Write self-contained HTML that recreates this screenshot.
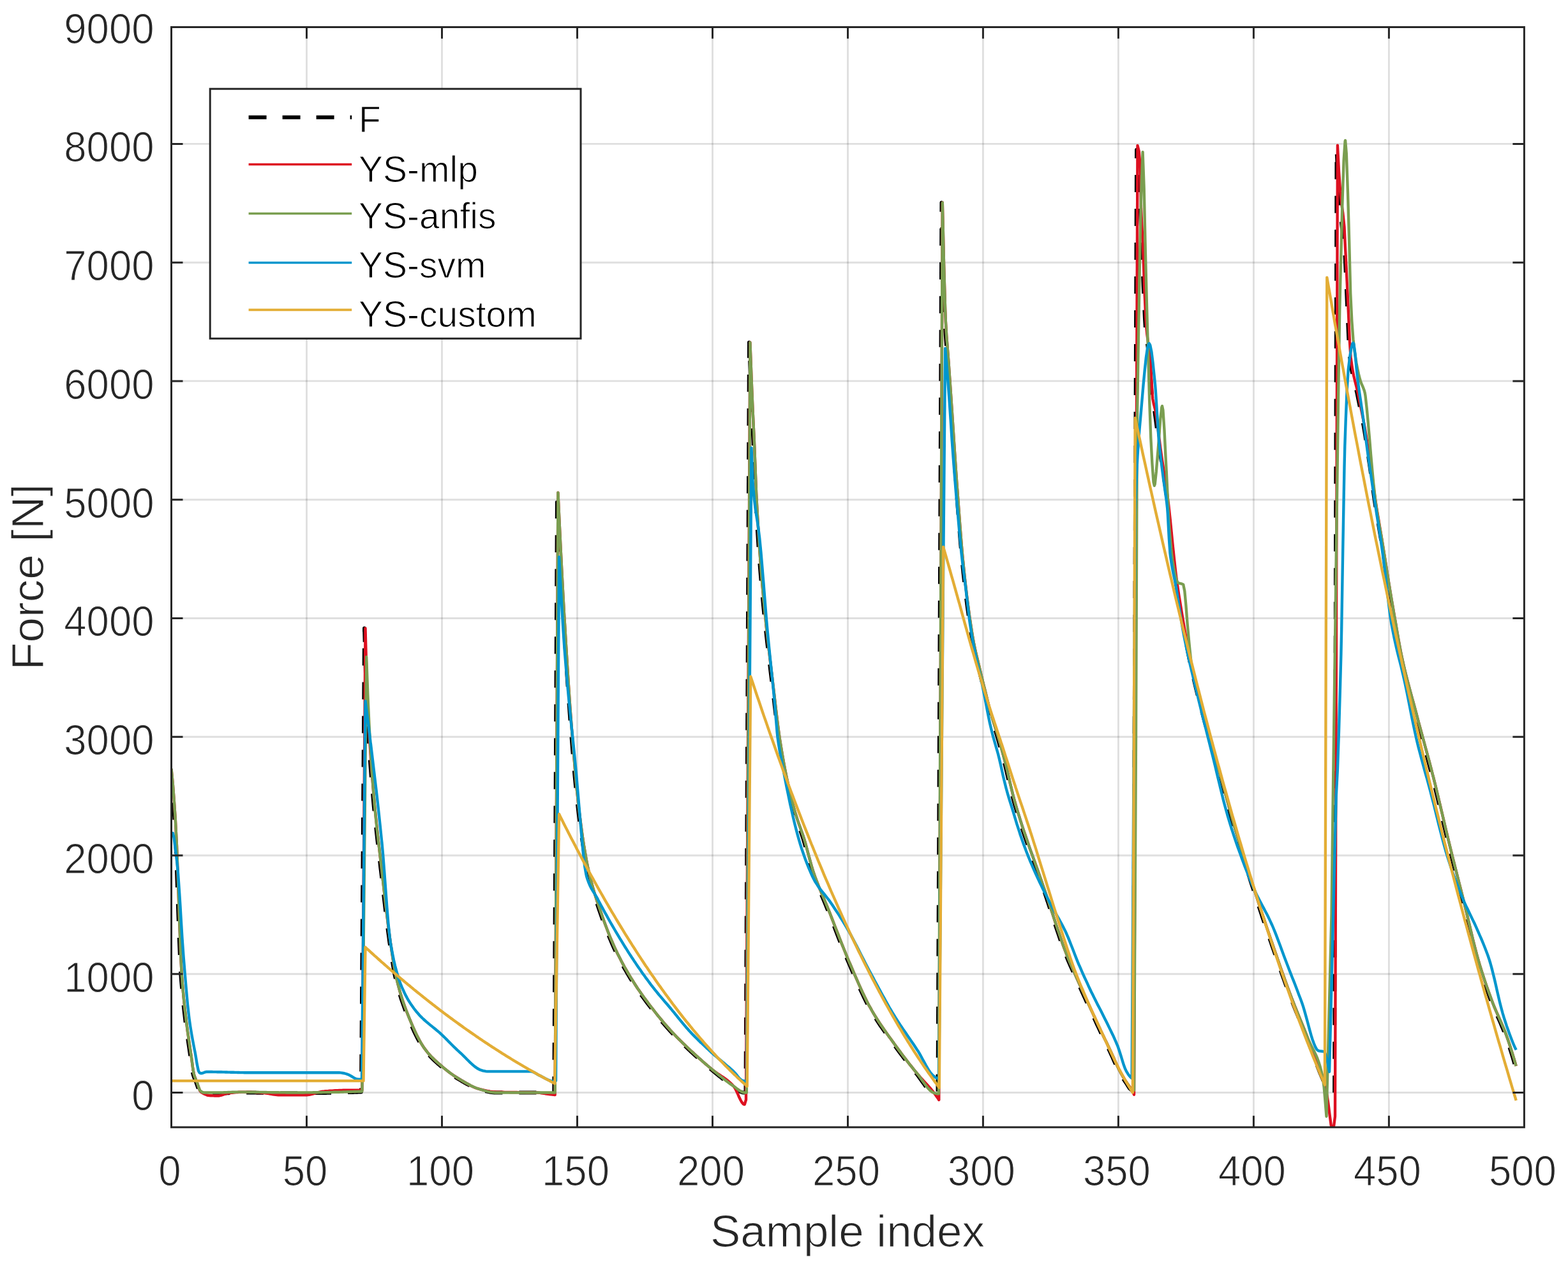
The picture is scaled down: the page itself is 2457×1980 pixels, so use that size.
<!DOCTYPE html>
<html><head><meta charset="utf-8"><title>Force plot</title>
<style>html,body{margin:0;padding:0;background:#fff;overflow:hidden;}svg{display:block;filter:blur(0.45px);}</style>
</head><body>
<svg width="2457" height="1980" viewBox="0 0 2457 1980">
<rect x="0" y="0" width="2457" height="1980" fill="#ffffff"/>
<path d="M480.5 42.5V1765.8M692.5 42.5V1765.8M904.5 42.5V1765.8M1116.5 42.5V1765.8M1328.5 42.5V1765.8M1540.4 42.5V1765.8M1752.4 42.5V1765.8M1964.4 42.5V1765.8M2176.4 42.5V1765.8" stroke="#000000" stroke-opacity="0.125" stroke-width="2.9" fill="none"/>
<path d="M268.5 1711.5H2388.4M268.5 1525.7H2388.4M268.5 1340.0H2388.4M268.5 1154.2H2388.4M268.5 968.5H2388.4M268.5 782.7H2388.4M268.5 596.9H2388.4M268.5 411.2H2388.4M268.5 225.4H2388.4" stroke="#000000" stroke-opacity="0.125" stroke-width="2.9" fill="none"/>
<defs><clipPath id="ax"><rect x="268.5" y="42.5" width="2119.9" height="1723.3"/></clipPath></defs>
<g clip-path="url(#ax)" fill="none" stroke-linejoin="round" stroke-linecap="butt">
<path d="M267.0 1204.4L269.1 1225.8L271.3 1252.7L273.4 1284.8L275.5 1325.1L277.6 1383.3L279.3 1432.9L279.7 1444.1L281.9 1499.6L283.1 1524.6L284.0 1536.7L286.1 1561.5L288.2 1581.2L289.9 1595.6L290.3 1599.1L292.5 1615.6L294.6 1630.3L296.7 1644.5L298.4 1656.0L298.8 1659.0L300.9 1675.0L302.2 1682.0L303.1 1685.0L305.2 1690.7L307.3 1695.7L309.4 1701.9L311.5 1707.4L312.4 1708.7L313.7 1710.0L315.8 1711.7L317.9 1712.4L320.0 1712.6L322.1 1712.8L324.3 1712.9L326.4 1713.1L328.5 1713.2L330.6 1713.2L332.7 1713.3L334.9 1713.3L337.0 1713.4L339.1 1713.4L341.2 1713.3L343.3 1713.3L345.5 1713.2L347.6 1713.1L349.7 1712.9L351.8 1712.8L353.9 1712.6L356.1 1712.4L358.2 1712.3L360.3 1712.1L362.4 1711.9L364.5 1711.8L366.7 1711.7L368.8 1711.6L370.9 1711.5L373.0 1711.5L375.1 1711.5L377.3 1711.5L379.4 1711.5L381.5 1711.5L383.6 1711.5L385.7 1711.6L387.9 1711.6L390.0 1711.6L392.1 1711.6L394.2 1711.6L396.3 1711.7L398.4 1711.7L400.6 1711.7L402.7 1711.8L404.8 1711.8L406.9 1711.8L409.0 1711.9L411.2 1711.9L413.3 1711.9L415.4 1712.0L417.5 1712.0L419.6 1712.0L421.8 1712.1L423.9 1712.1L426.0 1712.1L428.1 1712.2L430.2 1712.2L432.4 1712.2L434.5 1712.3L436.6 1712.3L438.7 1712.3L440.8 1712.3L443.0 1712.4L445.1 1712.4L447.2 1712.4L449.3 1712.4L451.4 1712.4L453.6 1712.4L455.7 1712.4L457.8 1712.4L459.9 1712.4L462.0 1712.4L464.2 1712.4L466.3 1712.4L468.4 1712.4L470.5 1712.4L472.6 1712.4L474.8 1712.4L476.9 1712.4L479.0 1712.4L481.1 1712.3L483.2 1712.3L485.4 1712.3L487.5 1712.3L489.6 1712.3L491.7 1712.2L493.8 1712.2L496.0 1712.2L498.1 1712.2L500.2 1712.1L502.3 1712.1L504.4 1712.1L506.6 1712.0L508.7 1712.0L510.8 1712.0L512.9 1711.9L515.0 1711.9L517.2 1711.8L519.3 1711.8L521.4 1711.8L523.5 1711.7L525.6 1711.7L527.8 1711.6L529.9 1711.6L532.0 1711.5L534.1 1711.5L536.2 1711.4L538.4 1711.4L540.5 1711.3L542.6 1711.3L544.7 1711.2L546.8 1711.2L549.0 1711.1L551.1 1711.0L553.2 1711.0L555.3 1710.9L557.4 1710.8L559.6 1710.8L561.7 1710.7L563.8 1710.6L565.9 1710.6L571.0 984.1L573.1 1062.7L574.4 1098.5L575.2 1116.7L577.4 1155.8L579.5 1187.9L581.6 1215.5L583.3 1236.0L583.7 1241.0L585.8 1264.4L588.0 1285.8L590.1 1305.5L592.2 1324.2L594.3 1342.4L596.4 1360.8L596.9 1364.5L598.6 1379.5L600.7 1398.3L602.8 1416.7L604.9 1434.6L607.0 1451.7L609.2 1467.8L610.4 1476.9L611.3 1482.7L613.4 1497.1L615.5 1510.6L617.6 1522.6L619.3 1530.8L619.8 1532.6L621.9 1541.3L624.0 1549.3L626.1 1556.7L628.2 1563.5L630.4 1569.9L632.5 1575.9L634.6 1581.7L636.7 1587.1L637.6 1589.3L638.8 1592.4L641.0 1597.6L643.1 1602.7L645.2 1607.6L647.3 1612.4L649.4 1617.0L651.6 1621.4L653.7 1625.6L655.8 1629.6L657.9 1633.3L660.0 1636.8L662.2 1640.1L664.3 1643.1L666.4 1645.9L668.5 1648.6L670.6 1651.1L672.8 1653.4L674.9 1655.7L677.0 1657.8L679.1 1659.9L681.2 1661.9L683.4 1663.8L685.5 1665.7L687.6 1667.5L689.7 1669.3L690.6 1670.1L691.8 1671.2L694.0 1672.9L696.1 1674.7L698.2 1676.4L700.3 1678.0L702.4 1679.7L704.6 1681.3L706.7 1682.8L708.8 1684.3L710.9 1685.7L713.0 1687.1L715.2 1688.5L717.3 1689.8L718.1 1690.3L719.4 1691.1L721.5 1692.3L723.6 1693.6L725.8 1694.8L727.9 1696.1L730.0 1697.2L732.1 1698.4L734.2 1699.5L736.4 1700.6L738.5 1701.6L740.6 1702.6L742.7 1703.5L744.8 1704.4L747.0 1705.1L749.1 1705.8L749.5 1705.9L751.2 1706.4L753.3 1707.1L755.4 1707.7L757.6 1708.3L759.7 1708.9L761.8 1709.5L763.9 1710.0L766.0 1710.4L768.2 1710.8L770.3 1711.1L772.4 1711.4L774.5 1711.5L775.8 1711.5L776.6 1711.5L778.8 1711.5L780.9 1711.5L783.0 1711.5L785.1 1711.5L787.2 1711.5L789.4 1711.5L791.5 1711.5L793.6 1711.5L795.7 1711.5L797.8 1711.5L800.0 1711.5L802.1 1711.5L804.2 1711.5L806.3 1711.5L808.4 1711.5L810.6 1711.5L812.7 1711.5L814.8 1711.5L816.9 1711.5L819.0 1711.5L821.2 1711.5L823.3 1711.5L825.4 1711.5L827.5 1711.5L829.6 1711.5L831.8 1711.5L833.9 1711.5L836.0 1711.5L838.1 1711.5L840.2 1711.5L842.4 1711.5L844.5 1711.5L846.6 1711.5L848.7 1711.5L850.8 1711.5L853.0 1711.5L855.1 1711.5L857.2 1711.5L859.3 1711.5L861.4 1711.5L863.6 1711.5L865.7 1711.5L867.8 1711.5L868.2 1711.5L872.9 771.7L875.0 816.7L877.1 860.0L879.2 901.4L881.4 940.6L883.1 970.3L883.5 977.5L885.6 1012.8L887.7 1046.6L889.8 1078.7L892.0 1109.1L894.1 1137.6L894.5 1143.1L896.2 1164.5L898.3 1190.6L900.4 1215.3L902.6 1238.1L904.7 1258.6L906.0 1269.6L906.8 1276.4L908.9 1292.9L911.0 1308.2L913.2 1322.4L915.3 1335.4L917.4 1347.3L919.5 1358.0L920.4 1361.9L921.6 1367.5L923.8 1376.3L925.9 1384.4L928.0 1392.0L930.1 1399.1L932.2 1405.8L934.4 1412.3L936.5 1418.6L938.6 1424.7L940.7 1430.8L942.8 1436.9L945.0 1442.8L947.1 1448.6L949.2 1454.2L951.3 1459.7L953.4 1465.0L955.6 1470.2L957.7 1475.2L959.8 1480.1L961.9 1484.8L963.6 1488.4L964.0 1489.3L966.2 1493.7L968.3 1498.0L970.4 1502.1L972.5 1506.2L974.6 1510.1L976.8 1514.0L978.9 1517.8L981.0 1521.4L983.1 1525.1L985.2 1528.6L987.4 1532.1L989.5 1535.5L991.6 1538.9L992.4 1540.2L993.7 1542.2L995.8 1545.5L998.0 1548.7L1000.1 1551.8L1002.2 1554.8L1004.3 1557.9L1006.4 1560.8L1008.6 1563.7L1010.7 1566.6L1012.8 1569.4L1014.9 1572.3L1017.0 1575.0L1019.2 1577.8L1021.3 1580.5L1023.4 1583.3L1025.5 1586.0L1027.6 1588.6L1029.8 1591.3L1031.9 1593.9L1034.0 1596.5L1036.1 1599.0L1038.2 1601.6L1040.4 1604.1L1042.5 1606.5L1044.6 1609.0L1046.7 1611.3L1048.8 1613.7L1050.1 1615.1L1051.0 1616.0L1053.1 1618.3L1055.2 1620.5L1057.3 1622.7L1059.4 1624.9L1061.6 1627.1L1063.7 1629.2L1065.8 1631.3L1067.9 1633.4L1070.0 1635.4L1072.2 1637.4L1074.3 1639.5L1076.4 1641.5L1078.5 1643.5L1078.9 1643.9L1080.6 1645.5L1082.8 1647.5L1084.9 1649.4L1087.0 1651.4L1089.1 1653.3L1091.2 1655.2L1093.4 1657.2L1095.5 1659.0L1097.6 1660.9L1099.7 1662.8L1101.8 1664.7L1104.0 1666.5L1106.1 1668.3L1108.2 1670.1L1110.3 1671.9L1112.4 1673.7L1114.6 1675.5L1116.7 1677.2L1118.8 1679.0L1120.9 1680.7L1123.0 1682.5L1125.2 1684.2L1127.3 1685.9L1129.4 1687.6L1131.5 1689.3L1133.6 1691.0L1135.8 1692.6L1137.9 1694.2L1140.0 1695.8L1142.1 1697.4L1144.2 1698.9L1146.4 1700.3L1148.0 1701.5L1148.5 1701.8L1150.6 1703.3L1152.7 1704.9L1154.8 1706.6L1157.0 1708.2L1159.1 1709.6L1161.2 1710.6L1163.3 1711.3L1165.0 1711.5L1165.4 1711.5L1167.5 1711.5L1168.4 1711.5L1173.9 536.4L1176.0 592.6L1177.7 634.1L1178.1 643.8L1180.3 689.4L1180.7 699.1L1182.4 742.8L1183.7 773.4L1184.5 790.3L1186.6 827.4L1187.9 847.7L1188.7 860.8L1190.9 890.4L1193.0 916.1L1195.1 939.5L1197.2 961.4L1198.1 969.8L1199.3 982.0L1201.5 1001.4L1203.6 1019.8L1205.7 1037.7L1207.8 1055.3L1209.1 1066.0L1209.9 1073.2L1212.1 1091.5L1214.2 1109.7L1216.3 1127.3L1218.4 1143.8L1220.1 1155.7L1220.5 1158.5L1222.7 1172.0L1224.8 1184.6L1226.9 1196.4L1229.0 1207.5L1231.1 1217.9L1233.3 1227.8L1235.4 1237.2L1237.5 1246.1L1239.6 1254.6L1241.7 1262.7L1243.9 1270.3L1244.7 1273.3L1246.0 1277.5L1248.1 1284.1L1250.2 1290.2L1252.3 1296.1L1254.5 1302.0L1256.6 1308.2L1258.7 1314.7L1260.8 1321.9L1262.9 1329.6L1265.1 1337.6L1267.2 1345.6L1269.3 1353.4L1271.4 1360.7L1273.1 1366.0L1273.5 1367.2L1275.7 1373.3L1277.8 1379.1L1279.9 1384.6L1282.0 1389.9L1284.1 1395.0L1286.3 1400.0L1288.4 1405.0L1290.5 1410.0L1292.6 1415.0L1294.7 1420.1L1296.4 1424.3L1296.9 1425.4L1299.0 1430.7L1301.1 1436.1L1303.2 1441.6L1305.3 1447.0L1307.5 1452.5L1309.6 1458.0L1311.7 1463.4L1313.8 1468.9L1315.9 1474.3L1318.1 1479.6L1320.2 1485.0L1322.3 1490.2L1324.4 1495.4L1326.5 1500.5L1328.7 1505.5L1330.8 1510.5L1332.9 1515.4L1335.0 1520.4L1337.1 1525.3L1339.3 1530.2L1341.4 1535.1L1343.5 1540.0L1345.6 1544.7L1347.7 1549.4L1349.9 1554.0L1352.0 1558.5L1354.1 1562.9L1356.2 1567.2L1358.3 1571.4L1360.5 1575.4L1362.6 1579.2L1364.7 1583.0L1366.8 1586.6L1368.9 1590.1L1371.1 1593.5L1373.2 1596.9L1375.3 1600.2L1377.4 1603.4L1379.5 1606.5L1381.7 1609.6L1383.8 1612.7L1385.9 1615.7L1388.0 1618.7L1390.1 1621.7L1392.3 1624.6L1394.4 1627.5L1396.5 1630.5L1398.6 1633.4L1399.5 1634.6L1400.7 1636.4L1402.9 1639.3L1405.0 1642.2L1407.1 1645.1L1409.2 1647.9L1411.3 1650.8L1413.5 1653.6L1415.6 1656.4L1417.7 1659.1L1419.8 1661.9L1421.9 1664.6L1424.1 1667.3L1426.2 1670.0L1428.3 1672.6L1430.4 1675.3L1432.5 1677.9L1434.7 1680.5L1436.4 1682.5L1436.8 1683.0L1438.9 1685.8L1441.0 1688.7L1443.1 1691.7L1445.3 1694.7L1447.4 1697.7L1449.5 1700.6L1451.6 1703.3L1453.7 1705.8L1455.9 1708.0L1458.0 1709.8L1460.1 1711.2L1462.2 1712.1L1464.3 1712.6L1466.5 1713.1L1468.6 1713.3L1469.4 1713.4L1475.4 317.4L1477.5 412.3L1479.6 484.1L1480.4 504.1L1481.7 525.8L1483.8 552.7L1485.1 569.1L1486.0 581.2L1488.1 612.2L1490.2 643.4L1492.3 675.1L1494.4 707.1L1496.6 738.4L1498.3 762.3L1498.7 768.0L1500.8 796.7L1502.9 824.6L1505.0 851.0L1507.2 874.9L1507.6 879.3L1509.3 896.1L1511.4 915.5L1513.5 933.4L1515.6 949.9L1517.8 965.5L1519.9 980.1L1522.0 993.6L1524.1 1005.6L1526.2 1016.0L1528.4 1025.2L1530.5 1034.0L1532.6 1042.8L1534.7 1051.7L1536.8 1060.6L1539.0 1069.3L1540.7 1076.2L1541.1 1077.9L1543.2 1086.4L1545.3 1094.9L1547.4 1103.2L1549.6 1111.2L1551.7 1118.9L1553.8 1126.1L1555.9 1133.0L1558.0 1139.6L1560.2 1146.3L1562.3 1153.2L1563.1 1156.1L1564.4 1160.5L1566.5 1168.0L1568.6 1175.6L1570.8 1183.5L1572.9 1191.5L1575.0 1199.7L1577.1 1208.4L1579.2 1217.5L1581.4 1226.8L1583.5 1235.8L1585.6 1244.4L1586.0 1246.0L1587.7 1252.3L1589.8 1259.8L1592.0 1267.0L1594.1 1274.1L1596.2 1280.9L1597.5 1285.0L1598.3 1287.7L1600.4 1294.3L1602.6 1300.7L1604.7 1307.0L1606.8 1313.2L1608.9 1319.3L1611.0 1325.4L1611.5 1326.6L1613.2 1331.4L1615.3 1337.4L1617.4 1343.3L1619.5 1349.1L1621.6 1354.9L1623.8 1360.8L1625.4 1365.6L1625.9 1366.8L1628.0 1372.9L1630.1 1379.0L1632.2 1385.1L1634.4 1391.2L1636.5 1397.4L1638.6 1403.6L1640.7 1409.9L1641.6 1412.4L1642.8 1416.2L1645.0 1422.7L1647.1 1429.2L1649.2 1435.7L1651.3 1442.2L1653.4 1448.6L1654.7 1452.4L1655.6 1454.9L1657.7 1461.1L1659.8 1467.4L1661.9 1473.6L1664.0 1479.7L1666.2 1485.5L1668.3 1491.2L1668.7 1492.3L1670.4 1496.6L1672.5 1501.8L1674.6 1506.8L1676.7 1511.7L1678.9 1516.5L1681.0 1521.3L1682.7 1525.2L1683.1 1526.2L1685.2 1531.0L1687.3 1535.7L1689.5 1540.5L1691.6 1545.2L1693.7 1549.8L1695.8 1554.5L1697.1 1557.3L1697.9 1559.2L1700.1 1563.8L1702.2 1568.5L1704.3 1573.1L1706.4 1577.7L1708.5 1582.3L1710.7 1586.9L1711.1 1587.8L1712.8 1591.5L1714.9 1596.0L1717.0 1600.6L1719.1 1605.2L1721.3 1609.7L1723.4 1614.3L1725.1 1617.9L1725.5 1618.8L1727.6 1623.3L1729.7 1627.7L1731.9 1632.1L1734.0 1636.5L1736.1 1641.0L1738.2 1645.5L1739.5 1648.2L1740.3 1650.0L1742.5 1654.7L1744.6 1659.5L1746.7 1664.3L1748.8 1668.9L1750.9 1673.4L1753.1 1677.6L1753.5 1678.4L1755.2 1681.5L1757.3 1685.2L1759.4 1688.7L1761.5 1692.1L1763.7 1695.3L1765.8 1698.5L1767.9 1702.0L1770.0 1705.2L1771.7 1706.7L1772.1 1706.9L1774.3 1707.6L1775.5 1707.8L1781.0 234.7L1783.2 241.4L1785.3 262.2L1786.6 324.4L1787.4 345.9L1789.5 386.5L1791.6 448.7L1793.8 497.5L1794.6 510.9L1795.9 524.3L1798.0 539.9L1800.1 555.0L1801.0 562.9L1802.2 580.0L1804.4 611.1L1804.8 615.5L1806.5 628.0L1808.6 640.7L1809.0 643.6L1810.7 655.8L1812.8 671.9L1815.0 688.2L1817.1 703.9L1819.2 718.5L1821.3 732.4L1823.4 746.0L1825.6 760.0L1827.7 775.0L1829.0 784.7L1829.8 791.7L1831.9 810.9L1834.0 831.9L1836.2 853.4L1838.3 874.2L1840.4 893.3L1841.3 900.1L1842.5 909.6L1844.6 924.3L1846.8 938.0L1847.2 940.6L1848.9 951.0L1851.0 963.8L1853.1 976.3L1855.2 988.5L1857.4 1000.2L1859.5 1011.6L1861.6 1022.6L1863.7 1033.2L1865.8 1043.3L1868.0 1053.0L1870.1 1062.3L1872.2 1071.2L1874.3 1079.9L1876.4 1088.3L1878.6 1096.6L1880.7 1104.7L1882.8 1112.7L1884.9 1120.6L1887.0 1128.6L1889.2 1136.6L1891.3 1144.5L1893.4 1152.4L1895.5 1160.1L1897.6 1167.8L1899.8 1175.3L1901.9 1182.9L1904.0 1190.4L1906.1 1197.9L1908.2 1205.4L1910.4 1212.9L1912.5 1220.5L1914.6 1228.2L1916.7 1235.9L1918.8 1243.7L1921.0 1251.5L1923.1 1259.3L1925.2 1267.0L1927.3 1274.7L1929.4 1282.4L1931.6 1289.9L1933.7 1297.3L1935.8 1304.5L1937.9 1311.6L1940.0 1318.6L1942.2 1325.5L1944.3 1332.4L1946.4 1339.1L1948.5 1345.8L1950.6 1352.5L1952.8 1359.1L1954.9 1365.7L1957.0 1372.2L1959.1 1378.8L1961.2 1385.3L1963.4 1391.8L1963.8 1393.1L1965.5 1398.3L1967.6 1404.8L1969.7 1411.3L1971.8 1417.8L1974.0 1424.2L1976.1 1430.6L1978.2 1437.0L1980.3 1443.3L1982.4 1449.6L1984.6 1455.9L1986.7 1462.2L1988.8 1468.4L1990.9 1474.6L1991.8 1477.1L1993.0 1480.8L1995.2 1486.9L1997.3 1493.1L1999.4 1499.3L2001.5 1505.4L2003.6 1511.5L2005.8 1517.5L2007.9 1523.6L2010.0 1529.5L2012.1 1535.4L2014.2 1541.3L2016.4 1547.1L2018.5 1552.8L2019.7 1556.2L2020.6 1558.4L2022.7 1564.0L2024.8 1569.4L2027.0 1574.8L2029.1 1580.1L2031.2 1585.3L2033.3 1590.5L2035.4 1595.7L2037.6 1600.9L2039.7 1606.1L2041.8 1611.3L2043.9 1616.6L2046.0 1621.9L2047.7 1626.2L2048.2 1627.3L2050.3 1632.8L2052.4 1638.5L2054.5 1644.2L2056.6 1649.9L2058.8 1655.6L2060.9 1661.3L2063.0 1667.0L2065.1 1672.5L2067.2 1677.8L2069.4 1683.0L2071.1 1687.0L2071.5 1688.0L2073.6 1693.2L2075.7 1698.3L2077.8 1702.4L2079.1 1704.1L2080.0 1704.9L2082.1 1706.9L2084.2 1708.7L2086.3 1710.1L2088.4 1711.1L2090.6 1711.5L2091.0 1711.5L2094.4 234.7L2096.5 280.1L2098.6 315.1L2100.7 338.7L2102.8 357.6L2104.5 372.9L2105.0 376.8L2107.1 396.3L2107.5 401.7L2109.2 438.8L2110.1 459.1L2111.3 488.0L2113.4 535.3L2115.1 560.0L2115.6 563.5L2117.7 578.2L2119.8 589.0L2121.9 597.7L2124.0 605.9L2126.2 615.3L2128.3 625.8L2130.4 635.9L2132.5 646.2L2134.6 656.9L2136.8 668.3L2137.2 670.7L2138.9 680.8L2141.0 694.3L2143.1 708.5L2145.2 723.0L2145.7 725.9L2147.4 737.8L2149.5 753.3L2151.6 768.8L2153.7 783.4L2155.8 797.0L2158.0 809.9L2160.1 822.5L2162.2 835.0L2164.3 847.7L2164.8 850.3L2166.4 860.9L2168.6 874.3L2170.7 887.7L2172.8 901.1L2174.9 914.3L2175.8 919.4L2177.0 927.1L2179.2 939.7L2181.3 952.1L2183.4 964.4L2184.3 969.2L2185.5 976.5L2187.6 988.8L2189.8 1001.0L2191.9 1012.8L2194.0 1023.8L2195.3 1029.9L2196.1 1033.8L2198.2 1043.2L2200.4 1052.1L2202.5 1060.7L2204.6 1068.9L2206.7 1076.8L2208.8 1084.6L2211.0 1092.3L2213.1 1100.0L2215.2 1107.8L2217.3 1115.7L2218.2 1118.9L2219.4 1123.8L2221.6 1131.7L2223.7 1139.6L2225.8 1147.4L2227.9 1155.2L2230.0 1163.0L2232.2 1170.8L2234.3 1178.6L2236.4 1186.5L2238.5 1194.4L2240.6 1202.4L2242.8 1210.6L2244.9 1218.9L2247.0 1227.3L2249.1 1235.9L2251.2 1244.7L2253.4 1253.5L2255.5 1262.5L2257.6 1271.5L2259.7 1280.5L2261.8 1289.5L2264.0 1298.5L2266.1 1307.4L2268.2 1316.3L2270.3 1325.0L2271.2 1328.5L2272.4 1333.6L2274.6 1342.1L2276.7 1350.6L2278.8 1359.0L2280.9 1367.4L2283.0 1375.7L2285.2 1384.0L2287.3 1392.4L2289.4 1400.8L2291.5 1409.2L2293.2 1416.0L2293.6 1417.7L2295.8 1426.3L2297.9 1435.2L2300.0 1444.2L2302.1 1453.2L2304.2 1462.1L2306.4 1471.0L2308.5 1479.6L2310.6 1487.9L2312.7 1495.9L2314.8 1503.4L2317.0 1510.6L2319.1 1517.6L2321.2 1524.3L2323.3 1530.9L2325.4 1537.2L2327.6 1543.5L2329.7 1549.5L2331.8 1555.4L2333.9 1561.3L2336.0 1567.0L2336.9 1569.2L2338.2 1572.5L2340.3 1577.8L2342.4 1582.8L2344.5 1587.7L2346.6 1592.4L2348.8 1597.1L2350.9 1601.9L2353.0 1606.8L2355.1 1611.9L2357.2 1617.3L2358.9 1621.8L2359.4 1622.9L2361.5 1629.0L2363.6 1635.2L2365.7 1641.8L2367.8 1648.5L2370.0 1655.5L2372.1 1662.6L2374.2 1669.9" stroke="#000000" stroke-width="5.8" stroke-dasharray="27 26"/>
<path d="M268.5 1204.4L270.6 1225.8L272.7 1252.7L274.9 1284.8L277.0 1325.1L279.1 1383.3L280.8 1432.9L281.2 1444.1L283.3 1499.6L284.6 1524.6L285.5 1536.7L287.6 1561.5L289.7 1581.2L291.4 1595.6L291.8 1599.1L293.9 1615.6L296.1 1630.3L298.2 1644.5L299.9 1656.0L300.3 1659.0L302.4 1675.0L303.7 1682.0L304.5 1685.0L306.7 1690.6L308.8 1695.7L310.9 1702.3L313.0 1708.1L313.9 1709.5L315.1 1710.7L317.3 1712.1L319.0 1713.0L319.4 1713.2L321.5 1714.2L323.6 1715.1L325.7 1715.8L327.9 1716.1L330.0 1716.2L332.1 1716.3L334.2 1716.4L336.3 1716.5L338.5 1716.5L340.6 1716.5L341.4 1716.5L342.7 1716.5L344.8 1716.1L346.9 1715.6L349.1 1714.9L351.2 1714.1L353.3 1713.4L355.4 1712.8L357.5 1712.4L359.7 1712.2L361.8 1711.9L363.9 1711.7L366.0 1711.5L368.1 1711.3L370.3 1711.1L372.4 1711.0L374.5 1710.8L376.6 1710.7L378.7 1710.6L380.9 1710.6L383.0 1710.6L385.1 1710.6L387.2 1710.6L389.3 1710.6L391.5 1710.7L393.6 1710.8L395.7 1710.9L397.8 1710.9L399.9 1711.0L402.1 1711.2L404.2 1711.3L406.3 1711.4L408.4 1711.5L410.5 1711.7L412.7 1711.9L414.8 1712.2L416.9 1712.5L419.0 1712.8L421.1 1713.2L423.3 1713.6L425.4 1713.9L427.5 1714.3L429.6 1714.6L431.7 1714.8L433.9 1715.0L436.0 1715.2L438.1 1715.2L440.2 1715.2L442.3 1715.2L444.5 1715.2L446.6 1715.2L448.7 1715.2L450.8 1715.2L452.9 1715.2L455.1 1715.2L457.2 1715.2L459.3 1715.2L461.4 1715.2L463.5 1715.2L465.7 1715.2L467.8 1715.2L469.9 1715.2L472.0 1715.2L474.1 1715.2L476.3 1715.2L478.4 1715.2L480.5 1715.2L482.6 1715.1L484.7 1714.9L486.8 1714.4L489.0 1713.9L491.1 1713.3L493.2 1712.7L495.3 1712.0L497.4 1711.4L499.6 1710.8L501.7 1710.3L503.8 1709.9L505.9 1709.6L508.0 1709.5L510.2 1709.3L512.3 1709.1L514.4 1709.0L516.5 1708.8L518.6 1708.7L520.8 1708.6L522.9 1708.4L525.0 1708.3L527.1 1708.2L529.2 1708.1L531.4 1708.0L533.5 1708.0L535.6 1707.9L537.7 1707.8L539.8 1707.8L542.0 1707.8L544.1 1707.8L546.2 1707.8L548.3 1707.8L550.4 1707.8L552.6 1707.8L554.7 1707.8L556.8 1707.8L558.9 1707.8L561.0 1707.8L563.2 1707.8L565.3 1707.8L567.4 1707.8L572.5 984.1L574.6 1062.7L575.9 1098.5L576.7 1116.7L578.9 1155.8L581.0 1187.9L583.1 1215.5L584.8 1236.0L585.2 1241.0L587.3 1264.4L589.5 1285.8L591.6 1305.5L593.7 1324.2L595.8 1342.4L597.9 1360.8L598.4 1364.5L600.1 1379.5L602.2 1398.3L604.3 1416.7L606.4 1434.6L608.5 1451.7L610.7 1467.8L611.9 1476.9L612.8 1482.7L614.9 1497.1L617.0 1510.6L619.1 1522.6L620.8 1530.8L621.3 1532.6L623.4 1541.3L625.5 1549.3L627.6 1556.7L629.7 1563.5L631.9 1569.9L634.0 1575.9L636.1 1581.7L638.2 1587.1L639.1 1589.3L640.3 1592.4L642.5 1597.6L644.6 1602.7L646.7 1607.6L648.8 1612.4L650.9 1617.0L653.0 1621.4L655.2 1625.6L657.3 1629.6L659.4 1633.3L661.5 1636.8L663.6 1640.1L665.8 1643.1L667.9 1645.9L670.0 1648.6L672.1 1651.1L674.2 1653.4L676.4 1655.7L678.5 1657.8L680.6 1659.9L682.7 1661.9L684.8 1663.8L687.0 1665.7L689.1 1667.5L691.2 1669.3L692.1 1670.1L693.3 1671.2L695.4 1672.9L697.6 1674.7L699.7 1676.4L701.8 1678.0L703.9 1679.7L706.0 1681.3L708.2 1682.8L710.3 1684.3L712.4 1685.7L714.5 1687.1L716.6 1688.5L718.8 1689.8L719.6 1690.3L720.9 1691.1L723.0 1692.4L725.1 1693.6L727.2 1694.9L729.4 1696.1L731.5 1697.3L733.6 1698.5L735.7 1699.7L737.8 1700.8L740.0 1701.8L742.1 1702.8L744.2 1703.7L746.3 1704.5L748.4 1705.2L750.6 1705.8L751.0 1705.9L752.7 1706.4L754.8 1706.9L756.9 1707.4L759.0 1707.9L761.2 1708.4L763.3 1708.8L765.4 1709.2L767.5 1709.6L769.6 1709.9L771.8 1710.2L773.9 1710.4L776.0 1710.5L777.3 1710.6L778.1 1710.6L780.2 1710.7L782.4 1710.7L784.5 1710.8L786.6 1710.8L788.7 1710.8L790.8 1710.9L793.0 1710.9L795.1 1710.9L797.2 1710.9L799.3 1711.0L801.4 1711.0L803.6 1711.0L805.7 1711.0L807.8 1711.0L809.9 1711.0L812.0 1711.1L814.2 1711.1L816.3 1711.1L818.4 1711.1L820.5 1711.1L822.6 1711.1L824.8 1711.2L826.9 1711.2L829.0 1711.2L831.1 1711.3L833.2 1711.3L835.4 1711.4L837.5 1711.4L839.6 1711.5L840.9 1711.5L841.7 1711.5L843.8 1711.7L846.0 1711.9L848.1 1712.2L850.2 1712.5L852.3 1712.8L854.4 1713.2L856.6 1713.5L858.7 1713.8L860.8 1714.1L862.1 1714.3L862.9 1714.4L865.0 1714.6L867.2 1714.8L869.3 1715.0L869.7 1715.0L874.4 771.7L876.5 816.7L878.6 860.0L880.7 901.4L882.8 940.6L884.5 970.3L885.0 977.5L887.1 1012.8L889.2 1046.6L891.3 1078.7L893.4 1109.1L895.6 1137.6L896.0 1143.1L897.7 1164.5L899.8 1190.6L901.9 1215.3L904.0 1238.1L906.2 1258.6L907.4 1269.6L908.3 1276.4L910.4 1292.9L912.5 1308.2L914.6 1322.4L916.8 1335.4L918.9 1347.3L921.0 1358.0L921.9 1361.9L923.1 1367.5L925.2 1376.3L927.4 1384.4L929.5 1392.0L931.6 1399.1L933.7 1405.8L935.8 1412.3L938.0 1418.6L940.1 1424.7L942.2 1430.8L944.3 1436.9L946.4 1442.8L948.6 1448.6L950.7 1454.2L952.8 1459.7L954.9 1465.0L957.0 1470.2L959.2 1475.2L961.3 1480.1L963.4 1484.8L965.1 1488.4L965.5 1489.3L967.6 1493.7L969.8 1498.0L971.9 1502.1L974.0 1506.2L976.1 1510.1L978.2 1514.0L980.4 1517.8L982.5 1521.4L984.6 1525.1L986.7 1528.6L988.8 1532.1L991.0 1535.5L993.1 1538.9L993.9 1540.2L995.2 1542.2L997.3 1545.5L999.4 1548.7L1001.6 1551.8L1003.7 1554.8L1005.8 1557.9L1007.9 1560.8L1010.0 1563.7L1012.2 1566.6L1014.3 1569.4L1016.4 1572.3L1018.5 1575.0L1020.6 1577.8L1022.8 1580.5L1024.9 1583.3L1027.0 1586.0L1029.1 1588.6L1031.2 1591.3L1033.4 1593.9L1035.5 1596.5L1037.6 1599.0L1039.7 1601.6L1041.8 1604.1L1044.0 1606.5L1046.1 1609.0L1048.2 1611.3L1050.3 1613.7L1051.6 1615.1L1052.4 1616.0L1054.6 1618.3L1056.7 1620.5L1058.8 1622.7L1060.9 1624.9L1063.0 1627.1L1065.2 1629.2L1067.3 1631.3L1069.4 1633.4L1071.5 1635.4L1073.6 1637.4L1075.8 1639.5L1077.9 1641.5L1080.0 1643.5L1080.4 1643.9L1082.1 1645.5L1084.2 1647.5L1086.4 1649.4L1088.5 1651.4L1090.6 1653.3L1092.7 1655.2L1094.8 1657.2L1097.0 1659.0L1099.1 1660.9L1101.2 1662.8L1103.3 1664.7L1105.4 1666.5L1107.6 1668.3L1109.7 1670.1L1111.8 1671.9L1113.9 1673.7L1116.0 1675.5L1118.2 1677.2L1120.3 1678.8L1122.4 1680.3L1124.5 1681.8L1126.6 1683.2L1128.8 1684.6L1130.9 1686.0L1133.0 1687.4L1135.1 1688.9L1137.2 1690.4L1139.4 1692.0L1141.5 1693.7L1143.6 1695.6L1145.7 1697.5L1147.8 1699.6L1149.5 1701.5L1150.0 1702.0L1152.1 1705.2L1154.2 1709.5L1156.3 1714.2L1158.4 1719.1L1160.6 1723.5L1162.7 1727.1L1164.8 1729.4L1166.5 1730.1L1166.9 1729.7L1169.0 1722.6L1175.4 536.4L1177.5 592.6L1179.2 634.1L1179.6 643.8L1181.8 689.4L1182.2 699.1L1183.9 742.8L1185.1 773.4L1186.0 790.3L1188.1 827.4L1189.4 847.7L1190.2 860.8L1192.4 890.4L1194.5 916.1L1196.6 939.5L1198.7 961.4L1199.6 969.8L1200.8 982.0L1203.0 1001.4L1205.1 1019.8L1207.2 1037.7L1209.3 1055.3L1210.6 1066.0L1211.4 1073.2L1213.6 1091.5L1215.7 1109.7L1217.8 1127.3L1219.9 1143.8L1221.6 1155.7L1222.0 1158.5L1224.2 1172.0L1226.3 1184.6L1228.4 1196.4L1230.5 1207.5L1232.6 1217.9L1234.8 1227.8L1236.9 1237.2L1239.0 1246.1L1241.1 1254.6L1243.2 1262.7L1245.3 1270.3L1246.2 1273.3L1247.5 1277.5L1249.6 1284.1L1251.7 1290.2L1253.8 1296.1L1255.9 1302.0L1258.1 1308.2L1260.2 1314.7L1262.3 1321.9L1264.4 1329.6L1266.5 1337.6L1268.7 1345.6L1270.8 1353.4L1272.9 1360.7L1274.6 1366.0L1275.0 1367.2L1277.1 1373.3L1279.3 1379.1L1281.4 1384.6L1283.5 1389.9L1285.6 1395.0L1287.7 1400.0L1289.9 1405.0L1292.0 1410.0L1294.1 1415.0L1296.2 1420.1L1297.9 1424.3L1298.3 1425.4L1300.5 1430.7L1302.6 1436.1L1304.7 1441.6L1306.8 1447.0L1308.9 1452.5L1311.1 1458.0L1313.2 1463.4L1315.3 1468.9L1317.4 1474.3L1319.5 1479.6L1321.7 1485.0L1323.8 1490.2L1325.9 1495.4L1328.0 1500.5L1330.1 1505.5L1332.3 1510.5L1334.4 1515.4L1336.5 1520.4L1338.6 1525.3L1340.7 1530.2L1342.9 1535.1L1345.0 1540.0L1347.1 1544.7L1349.2 1549.4L1351.3 1554.0L1353.5 1558.5L1355.6 1562.9L1357.7 1567.2L1359.8 1571.4L1361.9 1575.4L1364.1 1579.2L1366.2 1583.0L1368.3 1586.6L1370.4 1590.1L1372.5 1593.5L1374.7 1596.9L1376.8 1600.2L1378.9 1603.4L1381.0 1606.5L1383.1 1609.6L1385.3 1612.7L1387.4 1615.7L1389.5 1618.7L1391.6 1621.7L1393.7 1624.6L1395.9 1627.5L1398.0 1630.5L1400.1 1633.4L1401.0 1634.6L1402.2 1636.4L1404.3 1639.3L1406.5 1642.2L1408.6 1645.1L1410.7 1647.9L1412.8 1650.8L1414.9 1653.6L1417.1 1656.4L1419.2 1659.1L1421.3 1661.9L1423.4 1664.6L1425.5 1667.3L1427.7 1670.0L1429.8 1672.6L1431.9 1675.3L1434.0 1677.9L1436.1 1680.5L1437.8 1682.5L1438.3 1683.0L1440.4 1685.5L1442.5 1688.0L1444.6 1690.3L1446.7 1692.6L1448.9 1694.9L1451.0 1697.2L1453.1 1699.5L1455.2 1701.9L1457.3 1704.3L1459.5 1706.8L1461.6 1709.4L1463.7 1712.1L1465.8 1714.9L1467.9 1718.0L1470.1 1721.1L1471.3 1723.0L1476.8 317.4L1479.0 412.3L1481.1 484.1L1481.9 504.1L1483.2 525.8L1485.3 552.7L1486.6 569.1L1487.4 581.2L1489.6 612.2L1491.7 643.4L1493.8 675.1L1495.9 707.1L1498.0 738.4L1499.7 762.3L1500.2 768.0L1502.3 796.7L1504.4 824.6L1506.5 851.0L1508.6 874.9L1509.1 879.3L1510.8 896.1L1512.9 915.5L1515.0 933.4L1517.1 949.9L1519.2 965.5L1521.4 980.1L1523.5 993.6L1525.6 1005.6L1527.7 1016.0L1529.8 1025.2L1532.0 1034.0L1534.1 1042.8L1536.2 1051.7L1538.3 1060.6L1540.4 1069.3L1542.1 1076.2L1542.6 1077.9L1544.7 1086.4L1546.8 1094.9L1548.9 1103.2L1551.0 1111.2L1553.2 1118.9L1555.3 1126.1L1557.4 1133.0L1559.5 1139.6L1561.6 1146.3L1563.8 1153.2L1564.6 1156.1L1565.9 1160.5L1568.0 1168.0L1570.1 1175.6L1572.2 1183.5L1574.4 1191.5L1576.5 1199.7L1578.6 1208.4L1580.7 1217.5L1582.8 1226.8L1585.0 1235.8L1587.1 1244.4L1587.5 1246.0L1589.2 1252.3L1591.3 1259.8L1593.4 1267.0L1595.6 1274.1L1597.7 1280.9L1598.9 1285.0L1599.8 1287.7L1601.9 1294.3L1604.0 1300.7L1606.2 1307.0L1608.3 1313.2L1610.4 1319.3L1612.5 1325.4L1612.9 1326.6L1614.6 1331.4L1616.8 1337.4L1618.9 1343.3L1621.0 1349.1L1623.1 1354.9L1625.2 1360.8L1626.9 1365.6L1627.4 1366.8L1629.5 1372.9L1631.6 1379.0L1633.7 1385.1L1635.8 1391.2L1638.0 1397.4L1640.1 1403.6L1642.2 1409.9L1643.0 1412.4L1644.3 1416.2L1646.4 1422.7L1648.6 1429.2L1650.7 1435.7L1652.8 1442.2L1654.9 1448.6L1656.2 1452.4L1657.0 1454.9L1659.2 1461.1L1661.3 1467.4L1663.4 1473.6L1665.5 1479.7L1667.6 1485.5L1669.8 1491.2L1670.2 1492.3L1671.9 1496.6L1674.0 1501.8L1676.1 1506.8L1678.2 1511.7L1680.4 1516.5L1682.5 1521.3L1684.2 1525.2L1684.6 1526.2L1686.7 1531.0L1688.8 1535.7L1691.0 1540.5L1693.1 1545.2L1695.2 1549.8L1697.3 1554.5L1698.6 1557.3L1699.4 1559.2L1701.6 1563.8L1703.7 1568.5L1705.8 1573.1L1707.9 1577.7L1710.0 1582.3L1712.2 1586.9L1712.6 1587.8L1714.3 1591.5L1716.4 1596.0L1718.5 1600.6L1720.6 1605.2L1722.8 1609.7L1724.9 1614.3L1726.6 1617.9L1727.0 1618.8L1729.1 1623.3L1731.2 1627.7L1733.4 1632.1L1735.5 1636.5L1737.6 1641.0L1739.7 1645.5L1741.0 1648.2L1741.8 1650.0L1744.0 1654.7L1746.1 1659.5L1748.2 1664.3L1750.3 1668.9L1752.4 1673.4L1754.5 1677.6L1755.0 1678.4L1756.7 1681.5L1758.8 1685.2L1760.9 1688.7L1763.0 1692.1L1765.1 1695.3L1767.3 1698.5L1769.4 1701.4L1771.5 1704.1L1773.2 1706.7L1773.6 1707.4L1775.7 1711.7L1777.0 1714.7L1782.5 228.0L1784.7 236.7L1786.8 262.2L1788.0 324.4L1788.9 345.9L1791.0 386.5L1793.1 448.7L1795.3 497.5L1796.1 510.9L1797.4 524.2L1799.5 539.3L1801.6 554.5L1802.5 562.9L1803.7 583.3L1805.9 620.8L1806.3 624.8L1808.0 633.5L1810.1 641.4L1810.5 643.6L1812.2 654.2L1814.3 670.3L1816.5 687.6L1818.6 703.9L1820.7 718.5L1822.8 732.4L1824.9 746.0L1827.1 760.0L1829.2 775.0L1830.4 784.7L1831.3 791.7L1833.4 810.9L1835.5 831.9L1837.6 853.4L1839.8 874.2L1841.9 893.3L1842.7 900.1L1844.0 909.6L1846.1 924.3L1848.2 938.0L1848.7 940.6L1850.4 951.0L1852.5 963.8L1854.6 976.3L1856.7 988.5L1858.8 1000.2L1861.0 1011.6L1863.1 1022.6L1865.2 1033.2L1867.3 1043.3L1869.4 1053.0L1871.6 1062.3L1873.7 1071.2L1875.8 1079.9L1877.9 1088.3L1880.0 1096.6L1882.2 1104.7L1884.3 1112.7L1886.4 1120.6L1888.5 1128.6L1890.6 1136.6L1892.8 1144.5L1894.9 1152.4L1897.0 1160.1L1899.1 1167.8L1901.2 1175.3L1903.4 1182.9L1905.5 1190.4L1907.6 1197.9L1909.7 1205.4L1911.8 1212.9L1914.0 1220.5L1916.1 1228.2L1918.2 1235.9L1920.3 1243.7L1922.4 1251.5L1924.6 1259.3L1926.7 1267.0L1928.8 1274.7L1930.9 1282.4L1933.0 1289.9L1935.2 1297.3L1937.3 1304.5L1939.4 1311.6L1941.5 1318.6L1943.6 1325.5L1945.8 1332.4L1947.9 1339.1L1950.0 1345.8L1952.1 1352.5L1954.2 1359.1L1956.4 1365.7L1958.5 1372.2L1960.6 1378.8L1962.7 1385.3L1964.8 1391.8L1965.3 1393.1L1967.0 1398.3L1969.1 1404.8L1971.2 1411.3L1973.3 1417.8L1975.4 1424.2L1977.6 1430.6L1979.7 1437.0L1981.8 1443.3L1983.9 1449.6L1986.0 1455.9L1988.2 1462.2L1990.3 1468.4L1992.4 1474.6L1993.3 1477.1L1994.5 1480.8L1996.6 1486.9L1998.8 1493.1L2000.9 1499.3L2003.0 1505.4L2005.1 1511.5L2007.2 1517.5L2009.4 1523.6L2011.5 1529.5L2013.6 1535.4L2015.7 1541.3L2017.8 1547.1L2020.0 1552.8L2021.2 1556.2L2022.1 1558.4L2024.2 1564.0L2026.3 1569.4L2028.4 1574.8L2030.6 1580.1L2032.7 1585.3L2034.8 1590.5L2036.9 1595.7L2039.0 1600.9L2041.2 1606.1L2043.3 1611.3L2045.4 1616.6L2047.5 1621.9L2049.2 1626.2L2049.6 1627.3L2051.8 1632.6L2053.9 1637.7L2056.0 1642.7L2058.1 1647.7L2060.2 1652.8L2062.4 1658.0L2064.5 1663.4L2066.6 1669.1L2068.7 1675.1L2070.8 1681.5L2072.5 1687.0L2073.0 1688.4L2075.1 1696.2L2077.2 1705.0L2079.3 1714.8L2081.4 1728.9L2083.6 1746.6L2085.7 1762.4L2087.8 1770.7L2088.2 1770.9L2089.9 1765.6L2092.0 1748.7L2095.9 227.6L2098.0 268.2L2100.1 299.7L2102.2 319.1L2104.3 334.1L2106.5 355.5L2108.1 390.0L2108.6 398.7L2110.7 442.0L2111.5 459.1L2112.8 487.2L2114.9 534.9L2116.6 560.0L2117.1 563.5L2119.2 578.2L2121.3 589.0L2123.4 597.7L2125.5 605.9L2127.7 615.3L2129.8 625.8L2131.9 635.9L2134.0 646.2L2136.1 656.9L2138.3 668.3L2138.7 670.7L2140.4 680.8L2142.5 694.3L2144.6 708.5L2146.7 723.0L2147.2 725.9L2148.9 737.8L2151.0 753.3L2153.1 768.8L2155.2 783.4L2157.3 797.0L2159.5 809.9L2161.6 822.5L2163.7 835.0L2165.8 847.7L2166.2 850.3L2167.9 860.9L2170.1 874.3L2172.2 887.7L2174.3 901.1L2176.4 914.3L2177.3 919.4L2178.5 927.1L2180.6 939.7L2182.8 952.1L2184.9 964.4L2185.7 969.2L2187.0 976.5L2189.1 988.8L2191.2 1001.0L2193.4 1012.8L2195.5 1023.8L2196.8 1029.9L2197.6 1033.8L2199.7 1043.2L2201.8 1052.1L2204.0 1060.7L2206.1 1068.9L2208.2 1076.8L2210.3 1084.6L2212.4 1092.3L2214.6 1100.0L2216.7 1107.8L2218.8 1115.7L2219.7 1118.9L2220.9 1123.8L2223.0 1131.7L2225.2 1139.6L2227.3 1147.4L2229.4 1155.2L2231.5 1163.0L2233.6 1170.8L2235.8 1178.6L2237.9 1186.5L2240.0 1194.4L2242.1 1202.4L2244.2 1210.6L2246.4 1218.9L2248.5 1227.3L2250.6 1235.9L2252.7 1244.7L2254.8 1253.5L2257.0 1262.5L2259.1 1271.5L2261.2 1280.5L2263.3 1289.5L2265.4 1298.5L2267.6 1307.4L2269.7 1316.3L2271.8 1325.0L2272.7 1328.5L2273.9 1333.6L2276.0 1342.1L2278.2 1350.6L2280.3 1359.0L2282.4 1367.4L2284.5 1375.7L2286.6 1384.0L2288.8 1392.4L2290.9 1400.8L2293.0 1409.2L2294.7 1416.0L2295.1 1417.7L2297.2 1426.3L2299.4 1435.2L2301.5 1444.2L2303.6 1453.2L2305.7 1462.1L2307.8 1471.0L2310.0 1479.6L2312.1 1487.9L2314.2 1495.9L2316.3 1503.4L2318.4 1510.6L2320.6 1517.6L2322.7 1524.3L2324.8 1530.9L2326.9 1537.2L2329.0 1543.5L2331.2 1549.5L2333.3 1555.4L2335.4 1561.3L2337.5 1567.0L2338.4 1569.2L2339.6 1572.5L2341.8 1577.8L2343.9 1582.8L2346.0 1587.7L2348.1 1592.4L2350.2 1597.1L2352.4 1601.9L2354.5 1606.8L2356.6 1611.9L2358.7 1617.3L2360.4 1621.8L2360.8 1622.9L2363.0 1629.0L2365.1 1635.2L2367.2 1641.8L2369.3 1648.5L2371.4 1655.5L2373.6 1662.6L2375.7 1669.9" stroke="#dd1020" stroke-width="4.4"/>
<path d="M268.5 1204.0L270.6 1225.7L272.7 1252.7L274.9 1284.8L277.0 1325.1L279.1 1383.3L280.8 1432.9L281.2 1444.1L283.3 1499.6L284.6 1524.6L285.5 1536.7L287.6 1561.5L289.7 1581.2L291.4 1595.6L291.8 1599.1L293.9 1615.6L296.1 1630.3L298.2 1644.5L299.9 1656.0L300.3 1659.0L302.4 1675.0L303.7 1682.0L304.5 1685.0L306.7 1690.7L308.8 1695.7L310.9 1702.1L313.0 1707.6L313.9 1708.7L315.1 1709.7L317.3 1711.0L319.4 1711.5L321.5 1711.5L323.6 1711.5L325.7 1711.5L327.9 1711.5L330.0 1711.5L332.1 1711.5L334.2 1711.5L336.3 1711.5L338.5 1711.5L340.6 1711.5L342.7 1711.5L344.8 1711.5L346.9 1711.4L349.1 1711.4L351.2 1711.3L353.3 1711.2L355.4 1711.1L357.5 1711.0L359.7 1710.9L361.8 1710.9L363.9 1710.8L366.0 1710.7L368.1 1710.7L370.3 1710.6L372.4 1710.6L374.5 1710.6L376.6 1710.6L378.7 1710.6L380.9 1710.6L383.0 1710.6L385.1 1710.6L387.2 1710.6L389.3 1710.6L391.5 1710.7L393.6 1710.7L395.7 1710.7L397.8 1710.7L399.9 1710.8L402.1 1710.8L404.2 1710.8L406.3 1710.9L408.4 1710.9L410.5 1710.9L412.7 1711.0L414.8 1711.0L416.9 1711.0L419.0 1711.1L421.1 1711.1L423.3 1711.1L425.4 1711.2L427.5 1711.2L429.6 1711.2L431.7 1711.3L433.9 1711.3L436.0 1711.3L438.1 1711.4L440.2 1711.4L442.3 1711.4L444.5 1711.4L446.6 1711.4L448.7 1711.5L450.8 1711.5L452.9 1711.5L455.1 1711.5L457.2 1711.5L459.3 1711.5L461.4 1711.5L463.5 1711.5L465.7 1711.5L467.8 1711.5L469.9 1711.5L472.0 1711.5L474.1 1711.5L476.3 1711.5L478.4 1711.4L480.5 1711.4L482.6 1711.4L484.7 1711.4L486.8 1711.4L489.0 1711.4L491.1 1711.3L493.2 1711.3L495.3 1711.3L497.4 1711.3L499.6 1711.2L501.7 1711.2L503.8 1711.2L505.9 1711.1L508.0 1711.1L510.2 1711.1L512.3 1711.0L514.4 1711.0L516.5 1711.0L518.6 1710.9L520.8 1710.9L522.9 1710.8L525.0 1710.8L527.1 1710.7L529.2 1710.7L531.4 1710.7L533.5 1710.6L535.6 1710.6L537.7 1710.5L539.8 1710.4L542.0 1710.4L544.1 1710.3L546.2 1710.3L548.3 1710.2L550.4 1710.2L552.6 1710.1L554.7 1710.0L556.8 1710.0L558.9 1709.9L561.0 1709.8L563.2 1709.8L565.3 1709.7L567.4 1709.6L574.2 1029.0L576.3 1088.0L577.2 1107.8L578.4 1133.9L580.5 1173.1L582.7 1207.1L584.8 1236.0L586.9 1260.7L589.0 1282.6L591.1 1302.5L593.3 1321.1L595.4 1339.0L597.5 1357.1L598.4 1364.5L599.6 1375.8L601.7 1394.5L603.9 1413.1L606.0 1431.1L608.1 1448.4L610.2 1464.7L611.9 1476.9L612.3 1479.8L614.5 1494.3L616.6 1508.0L618.7 1520.4L620.8 1530.8L622.9 1539.6L625.1 1547.7L627.2 1555.2L629.3 1562.2L631.4 1568.7L633.5 1574.8L635.7 1580.5L637.8 1586.0L639.1 1589.3L639.9 1591.4L642.0 1596.6L644.1 1601.7L646.3 1606.6L648.4 1611.4L650.5 1616.1L652.6 1620.5L654.7 1624.7L656.9 1628.8L659.0 1632.6L661.1 1636.2L663.2 1639.5L665.3 1642.6L665.8 1643.1L667.5 1645.4L669.6 1648.1L671.7 1650.6L673.8 1653.0L675.9 1655.2L678.1 1657.4L680.2 1659.5L682.3 1661.5L684.4 1663.4L686.5 1665.3L688.7 1667.2L690.8 1669.0L692.1 1670.1L692.9 1670.8L695.0 1672.6L697.1 1674.3L699.3 1676.0L701.4 1677.7L703.5 1679.4L705.6 1680.9L707.7 1682.5L709.9 1684.0L712.0 1685.5L714.1 1686.9L716.2 1688.2L718.3 1689.6L719.6 1690.3L720.5 1690.8L722.6 1692.1L724.7 1693.3L726.8 1694.6L728.9 1695.8L731.1 1697.0L733.2 1698.2L735.3 1699.3L737.4 1700.4L739.5 1701.4L741.7 1702.4L743.8 1703.3L745.9 1704.2L748.0 1705.0L750.1 1705.7L751.0 1705.9L752.3 1706.3L754.4 1706.9L756.5 1707.6L758.6 1708.2L760.7 1708.8L762.9 1709.4L765.0 1709.9L767.1 1710.4L769.2 1710.8L771.3 1711.1L773.5 1711.3L775.6 1711.5L777.3 1711.5L777.7 1711.5L779.8 1711.5L781.9 1711.5L784.1 1711.5L786.2 1711.5L788.3 1711.5L790.4 1711.5L792.5 1711.5L794.7 1711.5L796.8 1711.5L798.9 1711.5L801.0 1711.5L803.1 1711.5L805.3 1711.5L807.4 1711.5L809.5 1711.5L811.6 1711.5L813.7 1711.5L815.9 1711.5L818.0 1711.5L820.1 1711.5L822.2 1711.5L824.3 1711.5L826.5 1711.5L828.6 1711.5L830.7 1711.5L832.8 1711.5L834.9 1711.5L837.1 1711.5L839.2 1711.5L841.3 1711.5L843.4 1711.5L845.5 1711.5L847.7 1711.5L849.8 1711.5L851.9 1711.5L854.0 1711.5L856.1 1711.5L858.3 1711.5L860.4 1711.5L862.5 1711.5L864.6 1711.5L866.7 1711.5L868.9 1711.5L869.7 1711.5L874.4 771.7L876.5 816.7L878.6 860.0L880.7 901.4L882.8 940.6L884.5 970.3L885.0 977.5L887.1 1012.8L889.2 1046.6L891.3 1078.7L893.4 1109.1L895.6 1137.6L896.0 1143.1L897.7 1164.5L899.8 1190.6L901.9 1215.3L904.0 1238.1L906.2 1258.6L907.4 1269.6L908.3 1276.4L910.4 1292.9L912.5 1308.2L914.6 1322.4L916.8 1335.4L918.9 1347.3L921.0 1358.0L921.9 1361.9L923.1 1367.5L925.2 1376.3L927.4 1384.4L929.5 1392.0L931.6 1399.1L933.7 1405.8L935.8 1412.3L938.0 1418.6L940.1 1424.7L942.2 1430.8L944.3 1436.9L946.4 1442.8L948.6 1448.6L950.7 1454.2L952.8 1459.7L954.9 1465.0L957.0 1470.2L959.2 1475.2L961.3 1480.1L963.4 1484.8L965.1 1488.4L965.5 1489.3L967.6 1493.7L969.8 1498.0L971.9 1502.1L974.0 1506.2L976.1 1510.1L978.2 1514.0L980.4 1517.8L982.5 1521.4L984.6 1525.1L986.7 1528.6L988.8 1532.1L991.0 1535.5L993.1 1538.9L993.9 1540.2L995.2 1542.2L997.3 1545.5L999.4 1548.7L1001.6 1551.8L1003.7 1554.8L1005.8 1557.9L1007.9 1560.8L1010.0 1563.7L1012.2 1566.6L1014.3 1569.4L1016.4 1572.3L1018.5 1575.0L1020.6 1577.8L1022.8 1580.5L1024.9 1583.3L1027.0 1586.0L1029.1 1588.6L1031.2 1591.3L1033.4 1593.9L1035.5 1596.5L1037.6 1599.0L1039.7 1601.6L1041.8 1604.1L1044.0 1606.5L1046.1 1609.0L1048.2 1611.3L1050.3 1613.7L1051.6 1615.1L1052.4 1616.0L1054.6 1618.3L1056.7 1620.5L1058.8 1622.7L1060.9 1624.9L1063.0 1627.1L1065.2 1629.2L1067.3 1631.3L1069.4 1633.4L1071.5 1635.4L1073.6 1637.4L1075.8 1639.5L1077.9 1641.5L1080.0 1643.5L1080.4 1643.9L1082.1 1645.5L1084.2 1647.5L1086.4 1649.4L1088.5 1651.4L1090.6 1653.3L1092.7 1655.2L1094.8 1657.2L1097.0 1659.0L1099.1 1660.9L1101.2 1662.8L1103.3 1664.7L1105.4 1666.5L1107.6 1668.3L1109.7 1670.1L1111.8 1671.9L1113.9 1673.7L1116.0 1675.5L1118.2 1677.2L1120.3 1679.0L1122.4 1680.7L1124.5 1682.5L1126.6 1684.2L1128.8 1685.9L1130.9 1687.6L1133.0 1689.3L1135.1 1691.0L1137.2 1692.6L1139.4 1694.2L1141.5 1695.8L1143.6 1697.4L1145.7 1698.9L1147.8 1700.3L1149.5 1701.5L1150.0 1701.8L1152.1 1703.3L1154.2 1704.9L1156.3 1706.6L1158.4 1708.2L1160.6 1709.6L1162.7 1710.6L1164.8 1711.3L1166.5 1711.5L1166.9 1711.5L1169.0 1711.5L1169.9 1711.5L1175.4 536.4L1177.5 592.6L1179.2 634.1L1179.6 643.8L1181.8 689.4L1182.2 699.1L1183.9 742.8L1185.1 773.4L1186.0 790.3L1188.1 827.4L1189.4 847.7L1190.2 860.8L1192.4 890.4L1194.5 916.1L1196.6 939.5L1198.7 961.4L1199.6 969.8L1200.8 982.0L1203.0 1001.4L1205.1 1019.8L1207.2 1037.7L1209.3 1055.3L1210.6 1066.0L1211.4 1073.2L1213.6 1091.5L1215.7 1109.7L1217.8 1127.3L1219.9 1143.8L1221.6 1155.7L1222.0 1158.5L1224.2 1172.0L1226.3 1184.6L1228.4 1196.4L1230.5 1207.5L1232.6 1217.9L1234.8 1227.8L1236.9 1237.2L1239.0 1246.1L1241.1 1254.6L1243.2 1262.7L1245.3 1270.3L1246.2 1273.3L1247.5 1277.5L1249.6 1284.1L1251.7 1290.2L1253.8 1296.1L1255.9 1302.0L1258.1 1308.2L1260.2 1314.7L1262.3 1321.9L1264.4 1329.6L1266.5 1337.6L1268.7 1345.6L1270.8 1353.4L1272.9 1360.7L1274.6 1366.0L1275.0 1367.2L1277.1 1373.3L1279.3 1379.1L1281.4 1384.6L1283.5 1389.9L1285.6 1395.0L1287.7 1400.0L1289.9 1405.0L1292.0 1410.0L1294.1 1415.0L1296.2 1420.1L1297.9 1424.3L1298.3 1425.4L1300.5 1430.7L1302.6 1436.1L1304.7 1441.6L1306.8 1447.0L1308.9 1452.5L1311.1 1458.0L1313.2 1463.4L1315.3 1468.9L1317.4 1474.3L1319.5 1479.6L1321.7 1485.0L1323.8 1490.2L1325.9 1495.4L1328.0 1500.5L1330.1 1505.5L1332.3 1510.5L1334.4 1515.4L1336.5 1520.4L1338.6 1525.3L1340.7 1530.2L1342.9 1535.1L1345.0 1540.0L1347.1 1544.7L1349.2 1549.4L1351.3 1554.0L1353.5 1558.5L1355.6 1562.9L1357.7 1567.2L1359.8 1571.4L1361.9 1575.4L1364.1 1579.2L1366.2 1583.0L1368.3 1586.6L1370.4 1590.1L1372.5 1593.5L1374.7 1596.9L1376.8 1600.2L1378.9 1603.4L1381.0 1606.5L1383.1 1609.6L1385.3 1612.7L1387.4 1615.7L1389.5 1618.7L1391.6 1621.7L1393.7 1624.6L1395.9 1627.5L1398.0 1630.5L1400.1 1633.4L1401.0 1634.6L1402.2 1636.4L1404.3 1639.3L1406.5 1642.2L1408.6 1645.1L1410.7 1647.9L1412.8 1650.8L1414.9 1653.6L1417.1 1656.4L1419.2 1659.1L1421.3 1661.9L1423.4 1664.6L1425.5 1667.3L1427.7 1670.0L1429.8 1672.6L1431.9 1675.3L1434.0 1677.9L1436.1 1680.5L1437.8 1682.5L1438.3 1683.0L1440.4 1685.8L1442.5 1688.7L1444.6 1691.7L1446.7 1694.7L1448.9 1697.7L1451.0 1700.6L1453.1 1703.3L1455.2 1705.8L1457.3 1708.0L1459.5 1709.8L1461.6 1711.2L1463.7 1712.1L1465.8 1712.6L1467.9 1713.1L1470.1 1713.3L1470.9 1713.4L1476.8 317.4L1479.0 412.3L1481.1 484.1L1481.9 504.1L1483.2 525.8L1485.3 552.7L1486.6 569.1L1487.4 581.2L1489.6 612.2L1491.7 643.4L1493.8 675.1L1495.9 707.1L1498.0 738.4L1499.7 762.3L1500.2 768.0L1502.3 796.7L1504.4 824.6L1506.5 851.0L1508.6 874.9L1509.1 879.3L1510.8 896.1L1512.9 915.5L1515.0 933.4L1517.1 949.9L1519.2 965.5L1521.4 980.1L1523.5 993.6L1525.6 1005.6L1527.7 1016.0L1529.8 1025.2L1532.0 1034.0L1534.1 1042.8L1536.2 1051.7L1538.3 1060.6L1540.4 1069.3L1542.1 1076.2L1542.6 1077.9L1544.7 1086.4L1546.8 1094.9L1548.9 1103.2L1551.0 1111.2L1553.2 1118.9L1555.3 1126.1L1557.4 1133.0L1559.5 1139.6L1561.6 1146.3L1563.8 1153.2L1564.6 1156.1L1565.9 1160.5L1568.0 1168.0L1570.1 1175.6L1572.2 1183.5L1574.4 1191.5L1576.5 1199.7L1578.6 1208.4L1580.7 1217.5L1582.8 1226.8L1585.0 1235.8L1587.1 1244.4L1587.5 1246.0L1589.2 1252.3L1591.3 1259.8L1593.4 1267.0L1595.6 1274.1L1597.7 1280.9L1598.9 1285.0L1599.8 1287.7L1601.9 1294.3L1604.0 1300.7L1606.2 1307.0L1608.3 1313.2L1610.4 1319.3L1612.5 1325.4L1612.9 1326.6L1614.6 1331.4L1616.8 1337.4L1618.9 1343.3L1621.0 1349.1L1623.1 1354.9L1625.2 1360.8L1626.9 1365.6L1627.4 1366.8L1629.5 1372.9L1631.6 1379.0L1633.7 1385.1L1635.8 1391.2L1638.0 1397.4L1640.1 1403.6L1642.2 1409.9L1643.0 1412.4L1644.3 1416.2L1646.4 1422.7L1648.6 1429.2L1650.7 1435.7L1652.8 1442.2L1654.9 1448.6L1656.2 1452.4L1657.0 1454.9L1659.2 1461.1L1661.3 1467.4L1663.4 1473.6L1665.5 1479.7L1667.6 1485.5L1669.8 1491.2L1670.2 1492.3L1671.9 1496.6L1674.0 1501.8L1676.1 1506.8L1678.2 1511.7L1680.4 1516.5L1682.5 1521.3L1684.2 1525.2L1684.6 1526.2L1686.7 1531.0L1688.8 1535.7L1691.0 1540.5L1693.1 1545.2L1695.2 1549.8L1697.3 1554.5L1698.6 1557.3L1699.4 1559.2L1701.6 1563.8L1703.7 1568.5L1705.8 1573.1L1707.9 1577.7L1710.0 1582.3L1712.2 1586.9L1712.6 1587.8L1714.3 1591.5L1716.4 1596.0L1718.5 1600.6L1720.6 1605.2L1722.8 1609.7L1724.9 1614.3L1726.6 1617.9L1727.0 1618.8L1729.1 1623.3L1731.2 1627.7L1733.4 1632.1L1735.5 1636.5L1737.6 1641.0L1739.7 1645.5L1741.0 1648.2L1741.8 1650.0L1744.0 1654.7L1746.1 1659.5L1748.2 1664.3L1750.3 1668.9L1752.4 1673.4L1754.5 1677.6L1755.0 1678.4L1756.7 1681.5L1758.8 1685.2L1760.9 1688.7L1763.0 1692.1L1765.1 1695.3L1767.3 1698.5L1769.4 1702.0L1771.5 1705.2L1773.2 1706.7L1773.6 1706.9L1775.7 1707.6L1777.0 1707.8L1780.0 1154.2L1781.7 689.8L1782.1 645.4L1784.2 509.5L1784.7 485.5L1786.3 387.0L1787.6 327.6L1788.5 293.2L1790.6 238.2L1792.7 295.6L1794.8 392.6L1796.9 475.2L1798.2 522.6L1799.1 553.2L1801.2 628.8L1803.3 685.9L1805.4 726.0L1807.5 755.0L1808.8 760.8L1809.7 758.5L1811.8 739.0L1813.9 712.9L1814.3 708.4L1816.0 687.5L1818.1 658.2L1820.3 638.3L1821.1 636.1L1822.4 642.5L1824.5 674.0L1826.6 717.1L1827.9 741.5L1828.7 757.8L1830.9 802.9L1832.1 824.5L1833.0 835.5L1835.1 859.3L1837.2 877.0L1837.6 879.7L1839.3 889.6L1841.5 900.6L1843.6 908.8L1845.7 912.7L1847.8 913.7L1849.9 914.2L1852.1 914.7L1854.2 915.7L1856.3 926.0L1858.4 948.7L1860.5 976.1L1862.7 1000.4L1864.8 1021.8L1866.9 1040.5L1867.3 1043.3L1869.0 1053.2L1871.1 1064.3L1873.3 1074.3L1875.4 1083.2L1877.5 1091.4L1879.6 1098.9L1881.7 1106.1L1883.9 1113.1L1886.0 1120.1L1888.1 1127.3L1890.2 1135.0L1890.6 1136.6L1892.3 1143.0L1894.5 1150.8L1896.6 1158.6L1898.7 1166.2L1900.8 1173.8L1902.9 1181.4L1905.1 1188.9L1907.2 1196.4L1909.3 1203.9L1911.4 1211.4L1913.5 1219.0L1914.0 1220.5L1915.7 1226.7L1917.8 1234.4L1919.9 1242.2L1922.0 1250.0L1924.1 1257.7L1926.3 1265.5L1928.4 1273.2L1930.5 1280.8L1932.6 1288.4L1934.7 1295.8L1936.9 1303.1L1937.3 1304.5L1939.0 1310.2L1941.1 1317.2L1943.2 1324.2L1945.3 1331.0L1947.5 1337.8L1949.6 1344.5L1951.7 1351.2L1953.8 1357.8L1955.9 1364.4L1958.1 1370.9L1960.2 1377.4L1962.3 1384.0L1964.4 1390.5L1965.3 1393.1L1966.5 1397.0L1968.7 1403.5L1970.8 1410.0L1972.9 1416.5L1975.0 1422.9L1977.1 1429.3L1979.3 1435.7L1981.4 1442.0L1983.5 1448.4L1985.6 1454.7L1987.7 1460.9L1989.9 1467.2L1992.0 1473.4L1993.3 1477.1L1994.1 1479.5L1996.2 1485.7L1998.3 1491.9L2000.5 1498.0L2002.6 1504.2L2004.7 1510.3L2006.8 1516.3L2008.9 1522.4L2011.1 1528.3L2013.2 1534.3L2015.3 1540.1L2017.4 1545.9L2019.5 1551.7L2021.2 1556.2L2021.7 1557.3L2023.8 1562.9L2025.9 1568.3L2028.0 1573.7L2030.1 1579.0L2032.3 1584.3L2034.4 1589.5L2036.5 1594.7L2038.6 1599.9L2040.7 1605.1L2042.9 1610.3L2045.0 1615.6L2047.1 1620.9L2049.2 1626.2L2051.3 1631.3L2053.5 1635.8L2055.6 1640.0L2057.7 1644.0L2059.8 1648.1L2061.9 1652.5L2064.1 1657.5L2066.2 1663.2L2068.3 1669.9L2070.4 1677.7L2072.5 1687.0L2074.7 1703.3L2076.8 1727.8L2078.5 1748.8L2086.5 1432.9L2088.6 1260.8L2090.8 1095.5L2092.9 937.0L2093.7 875.6L2095.0 781.0L2097.1 621.8L2099.2 487.9L2100.1 448.3L2101.4 396.5L2103.5 314.9L2105.6 251.7L2107.7 221.0L2108.1 220.0L2109.8 240.7L2112.0 302.9L2113.2 344.1L2114.1 376.0L2116.2 459.3L2118.3 502.6L2120.4 531.4L2122.6 550.2L2124.7 564.2L2125.5 569.1L2126.8 575.8L2128.9 585.7L2131.0 594.0L2131.9 596.9L2133.2 600.6L2135.3 605.4L2137.4 610.7L2138.7 615.3L2139.5 620.0L2141.6 638.7L2143.8 662.1L2144.6 671.2L2145.9 685.6L2148.0 711.4L2149.3 725.9L2150.1 734.9L2152.2 756.9L2154.4 776.6L2155.2 783.4L2156.5 792.7L2158.6 806.5L2160.7 818.9L2162.8 830.7L2165.0 842.7L2166.2 850.3L2167.1 855.6L2169.2 868.9L2171.3 882.3L2173.4 895.8L2175.6 909.0L2177.3 919.4L2177.7 922.0L2179.8 934.7L2181.9 947.2L2184.0 959.5L2185.7 969.2L2186.2 971.6L2188.3 983.9L2190.4 996.2L2192.5 1008.1L2194.6 1019.5L2196.8 1029.9L2198.9 1039.5L2201.0 1048.6L2203.1 1057.3L2205.2 1065.6L2207.4 1073.7L2209.5 1081.5L2211.6 1089.3L2213.7 1097.0L2215.8 1104.7L2218.0 1112.5L2219.7 1118.9L2220.1 1120.5L2222.2 1128.6L2224.3 1136.5L2226.4 1144.3L2228.6 1152.1L2230.7 1159.9L2232.8 1167.7L2234.9 1175.5L2237.0 1183.3L2239.2 1191.2L2241.3 1199.2L2243.4 1207.3L2245.5 1215.5L2246.4 1218.9L2247.6 1223.9L2249.8 1232.5L2251.9 1241.2L2254.0 1250.0L2256.1 1258.9L2258.2 1267.9L2260.4 1276.9L2262.5 1285.9L2264.6 1294.9L2266.7 1303.9L2268.8 1312.7L2271.0 1321.5L2272.7 1328.5L2273.1 1330.2L2275.2 1338.7L2277.3 1347.2L2279.4 1355.6L2281.6 1364.0L2283.7 1372.4L2285.8 1380.7L2287.9 1389.0L2290.0 1397.4L2292.2 1405.8L2294.3 1414.3L2294.7 1416.0L2296.4 1422.8L2298.5 1431.6L2300.6 1440.6L2302.8 1449.6L2304.9 1458.6L2307.0 1467.5L2309.1 1476.2L2311.2 1484.6L2313.4 1492.8L2315.5 1500.5L2316.3 1503.4L2317.6 1507.8L2319.7 1514.8L2321.8 1521.6L2324.0 1528.3L2326.1 1534.7L2328.2 1541.0L2330.3 1547.1L2332.4 1553.1L2334.6 1558.9L2336.7 1564.7L2338.4 1569.2L2338.8 1570.3L2340.9 1575.7L2343.0 1580.8L2345.2 1585.7L2347.3 1590.5L2349.4 1595.3L2351.5 1600.0L2353.6 1604.8L2355.8 1609.8L2357.9 1615.1L2360.0 1620.6L2360.4 1621.8L2362.1 1626.5L2364.2 1632.7L2366.4 1639.1L2368.5 1645.8L2370.6 1652.7L2372.7 1659.7L2374.8 1667.0L2375.7 1669.9" stroke="#7a9e50" stroke-width="4.4"/>
<path d="M268.5 1304.7L270.6 1305.1L271.0 1305.2L272.7 1312.9L274.9 1330.7L277.0 1347.7L278.7 1364.3L279.1 1369.2L281.2 1399.5L282.5 1419.7L283.3 1433.9L285.5 1470.0L287.6 1499.0L289.7 1524.6L291.8 1549.3L293.9 1572.6L296.1 1592.3L296.5 1595.6L298.2 1607.5L300.3 1620.4L302.4 1631.9L304.5 1642.8L305.4 1647.2L306.7 1654.5L308.8 1667.3L310.9 1677.2L312.2 1679.9L313.0 1680.6L315.1 1681.4L317.3 1681.0L319.4 1680.2L321.5 1679.4L323.6 1679.0L325.7 1679.0L327.9 1679.0L330.0 1679.0L332.1 1679.0L334.2 1679.1L336.3 1679.1L338.5 1679.1L340.6 1679.2L342.7 1679.2L344.8 1679.3L346.9 1679.3L349.1 1679.4L351.2 1679.4L353.3 1679.5L355.4 1679.5L357.5 1679.6L359.7 1679.6L361.8 1679.7L363.9 1679.8L366.0 1679.8L368.1 1679.9L370.3 1679.9L372.4 1680.0L374.5 1680.0L376.6 1680.1L378.7 1680.1L380.9 1680.1L383.0 1680.2L385.1 1680.2L387.2 1680.2L389.3 1680.3L391.5 1680.3L393.6 1680.3L395.7 1680.3L397.8 1680.3L399.9 1680.3L402.1 1680.3L404.2 1680.3L406.3 1680.3L408.4 1680.3L410.5 1680.3L412.7 1680.3L414.8 1680.3L416.9 1680.3L419.0 1680.3L421.1 1680.3L423.3 1680.3L425.4 1680.3L427.5 1680.3L429.6 1680.3L431.7 1680.3L433.9 1680.3L436.0 1680.3L438.1 1680.3L440.2 1680.3L442.3 1680.3L444.5 1680.3L446.6 1680.3L448.7 1680.3L450.8 1680.3L452.9 1680.3L455.1 1680.3L457.2 1680.3L459.3 1680.3L461.4 1680.3L463.5 1680.3L465.7 1680.3L467.8 1680.3L469.9 1680.3L472.0 1680.3L474.1 1680.3L476.3 1680.3L478.4 1680.3L480.5 1680.3L482.6 1680.3L484.7 1680.3L486.8 1680.3L489.0 1680.3L491.1 1680.3L493.2 1680.3L495.3 1680.3L497.4 1680.3L499.6 1680.3L501.7 1680.3L503.8 1680.3L505.9 1680.3L508.0 1680.3L510.2 1680.3L512.3 1680.3L514.4 1680.3L516.5 1680.3L518.6 1680.3L520.8 1680.3L522.9 1680.3L525.0 1680.3L527.1 1680.3L529.2 1680.3L531.4 1680.3L533.5 1680.4L535.6 1680.6L537.7 1681.0L539.8 1681.4L542.0 1682.0L544.1 1682.7L546.2 1683.6L548.3 1684.6L550.4 1685.7L552.6 1687.1L554.7 1688.4L556.8 1689.5L558.9 1690.1L561.0 1690.4L563.2 1690.6L565.3 1690.7L567.0 1690.7L572.5 1098.1L574.6 1114.5L576.7 1131.2L578.9 1148.3L580.5 1162.2L581.0 1165.7L583.1 1183.3L585.2 1201.0L587.3 1218.8L589.5 1236.9L591.6 1255.5L593.7 1274.7L595.8 1294.6L597.9 1315.3L598.4 1319.5L600.1 1338.3L602.2 1365.1L604.3 1393.7L606.4 1421.8L608.5 1447.2L610.7 1467.8L611.9 1476.9L612.8 1481.9L614.9 1493.5L617.0 1503.9L619.1 1513.1L621.3 1521.4L623.4 1528.7L625.5 1535.3L627.6 1541.1L628.9 1544.3L629.7 1546.4L631.9 1551.2L634.0 1555.7L636.1 1559.9L638.2 1563.8L640.3 1567.5L642.5 1570.9L644.6 1574.1L646.7 1577.1L648.8 1580.0L650.9 1582.7L652.6 1584.8L653.0 1585.3L655.2 1587.8L657.3 1590.2L659.4 1592.4L661.5 1594.5L663.6 1596.5L665.8 1598.5L667.9 1600.3L670.0 1602.1L672.1 1603.9L674.2 1605.6L676.4 1607.4L678.5 1609.1L680.6 1610.8L682.7 1612.5L684.8 1614.3L687.0 1616.1L689.1 1617.9L691.2 1619.9L692.1 1620.7L693.3 1621.9L695.4 1623.9L697.6 1626.0L699.7 1628.1L701.8 1630.2L703.9 1632.4L706.0 1634.5L708.2 1636.7L710.3 1638.8L712.4 1640.8L714.5 1642.9L716.6 1644.9L718.8 1646.8L719.6 1647.6L720.9 1648.8L723.0 1650.7L725.1 1652.8L727.2 1654.9L729.4 1657.0L731.5 1659.2L733.6 1661.3L735.7 1663.4L737.8 1665.4L740.0 1667.3L742.1 1669.2L744.2 1670.9L746.3 1672.4L748.4 1673.8L750.6 1675.0L752.7 1676.0L754.8 1676.7L755.7 1676.9L756.9 1677.3L759.0 1677.7L761.2 1678.1L763.3 1678.4L764.6 1678.4L765.4 1678.4L767.5 1678.4L769.6 1678.4L771.8 1678.4L773.9 1678.4L776.0 1678.4L778.1 1678.4L780.2 1678.4L782.4 1678.4L784.5 1678.4L786.6 1678.4L788.7 1678.4L790.8 1678.4L793.0 1678.4L795.1 1678.4L797.2 1678.4L799.3 1678.4L801.4 1678.4L803.6 1678.4L805.7 1678.4L807.8 1678.4L809.9 1678.4L812.0 1678.4L814.2 1678.4L816.3 1678.4L818.4 1678.4L820.5 1678.4L822.6 1678.4L824.8 1678.4L826.9 1678.4L829.0 1678.4L831.1 1678.4L832.0 1678.4L833.2 1678.5L835.4 1679.2L837.5 1680.2L839.6 1681.4L841.7 1682.7L843.8 1684.0L845.1 1684.6L846.0 1684.9L848.1 1686.0L850.2 1687.1L852.3 1688.2L854.4 1689.4L856.6 1690.5L858.7 1691.5L860.8 1692.3L862.9 1693.1L865.0 1693.6L867.2 1693.8L868.0 1693.9L869.3 1693.6L871.0 1692.9L876.1 872.4L878.2 912.3L880.3 950.4L882.4 985.5L884.5 1016.4L886.7 1043.5L888.8 1068.4L890.9 1091.5L893.0 1113.2L895.1 1134.1L897.3 1154.6L899.4 1175.2L901.5 1196.3L901.9 1200.7L903.6 1218.9L905.7 1243.6L907.9 1269.3L910.0 1294.6L912.1 1318.6L914.2 1339.9L916.3 1357.5L918.5 1370.1L919.3 1373.4L920.6 1377.5L922.7 1383.2L924.8 1388.1L926.9 1392.2L929.1 1395.8L931.2 1399.2L933.3 1402.6L935.4 1406.2L936.3 1407.8L937.5 1410.2L939.7 1414.2L941.8 1418.2L943.9 1422.1L946.0 1426.0L948.1 1429.9L950.3 1433.7L952.4 1437.5L954.5 1441.3L956.6 1445.0L958.7 1448.7L960.9 1452.4L963.0 1456.0L965.1 1459.6L967.2 1463.2L969.3 1466.7L971.5 1470.3L973.6 1473.7L975.7 1477.2L977.8 1480.6L979.9 1484.0L982.1 1487.4L984.2 1490.8L986.3 1494.1L988.4 1497.3L990.5 1500.6L992.7 1503.8L993.9 1505.7L994.8 1506.9L996.9 1510.1L999.0 1513.2L1001.1 1516.3L1003.3 1519.3L1005.4 1522.4L1007.5 1525.4L1009.6 1528.3L1011.7 1531.3L1013.9 1534.2L1016.0 1537.0L1018.1 1539.9L1020.2 1542.7L1022.3 1545.4L1022.8 1546.0L1024.5 1548.2L1026.6 1550.8L1028.7 1553.4L1030.8 1556.0L1032.9 1558.6L1035.1 1561.1L1037.2 1563.6L1039.3 1566.1L1041.4 1568.6L1043.5 1571.0L1045.7 1573.5L1047.8 1576.0L1049.9 1578.5L1051.6 1580.5L1052.0 1581.0L1054.1 1583.6L1056.3 1586.2L1058.4 1588.8L1060.5 1591.4L1062.6 1594.1L1064.7 1596.7L1066.9 1599.3L1069.0 1601.9L1071.1 1604.4L1073.2 1606.9L1075.3 1609.4L1077.5 1611.8L1079.6 1614.2L1080.4 1615.1L1081.7 1616.5L1083.8 1618.7L1085.9 1620.9L1088.1 1623.1L1090.2 1625.2L1092.3 1627.3L1094.4 1629.4L1096.5 1631.5L1098.7 1633.5L1100.8 1635.5L1102.9 1637.5L1105.0 1639.5L1107.1 1641.5L1109.3 1643.4L1111.4 1645.4L1113.5 1647.3L1115.6 1649.3L1116.0 1649.6L1117.7 1651.2L1119.9 1653.0L1122.0 1654.9L1124.1 1656.7L1126.2 1658.5L1128.3 1660.2L1130.5 1662.0L1132.6 1663.8L1134.7 1665.5L1136.8 1667.3L1138.9 1669.1L1141.1 1670.9L1143.2 1672.7L1145.3 1674.6L1147.4 1676.5L1149.5 1678.4L1151.7 1680.7L1153.8 1683.2L1155.9 1685.9L1158.0 1688.4L1160.1 1690.6L1162.2 1692.2L1163.9 1692.9L1164.4 1693.0L1166.5 1693.5L1168.6 1693.8L1170.3 1693.9L1177.5 701.5L1179.6 755.1L1180.1 761.9L1181.8 781.2L1183.9 798.7L1186.0 812.2L1188.1 825.7L1190.2 842.7L1192.4 865.0L1194.5 889.9L1195.3 899.9L1196.6 915.2L1198.7 941.9L1200.8 968.2L1202.1 982.9L1203.0 992.2L1205.1 1014.0L1207.2 1034.7L1209.3 1055.1L1211.4 1075.9L1213.1 1093.5L1213.6 1098.2L1215.7 1124.0L1217.8 1148.2L1218.6 1155.7L1219.9 1164.9L1222.0 1177.9L1224.2 1189.1L1226.3 1199.7L1227.1 1204.2L1228.4 1211.0L1230.5 1222.1L1232.6 1232.9L1234.8 1243.4L1236.9 1253.5L1238.1 1259.4L1239.0 1263.2L1241.1 1272.6L1243.2 1281.7L1245.3 1290.6L1247.5 1299.1L1249.6 1307.1L1251.7 1314.7L1253.8 1321.8L1255.9 1328.6L1258.1 1335.0L1260.2 1341.1L1262.3 1346.9L1262.7 1348.0L1264.4 1352.4L1266.5 1357.8L1268.7 1363.0L1270.8 1367.9L1272.9 1372.5L1275.0 1376.8L1276.7 1379.9L1277.1 1380.7L1279.3 1384.1L1281.4 1387.4L1283.5 1390.4L1285.6 1393.2L1287.7 1395.9L1289.9 1398.6L1292.0 1401.2L1294.1 1403.8L1296.2 1406.5L1298.3 1409.2L1300.5 1412.1L1301.3 1413.4L1302.6 1415.2L1304.7 1418.3L1306.8 1421.5L1308.9 1424.7L1311.1 1427.9L1313.2 1431.1L1315.3 1434.4L1317.4 1437.8L1319.5 1441.2L1321.7 1444.6L1323.8 1448.1L1325.9 1451.7L1327.2 1453.9L1328.0 1455.3L1330.1 1459.0L1332.3 1462.8L1334.4 1466.7L1336.5 1470.7L1338.6 1474.7L1340.7 1478.8L1342.9 1482.9L1345.0 1487.1L1347.1 1491.2L1349.2 1495.4L1351.3 1499.6L1353.5 1503.8L1355.6 1507.9L1357.7 1512.0L1359.8 1516.1L1361.9 1520.1L1364.1 1524.1L1366.2 1528.0L1368.3 1531.9L1370.4 1535.9L1372.5 1539.8L1374.7 1543.8L1376.8 1547.7L1378.9 1551.6L1381.0 1555.5L1383.1 1559.4L1385.3 1563.2L1387.4 1567.0L1389.5 1570.8L1391.6 1574.6L1393.7 1578.3L1395.9 1581.9L1398.0 1585.5L1400.1 1589.0L1401.0 1590.4L1402.2 1592.4L1404.3 1595.8L1406.5 1599.1L1408.6 1602.4L1410.7 1605.6L1412.8 1608.8L1414.9 1611.9L1417.1 1615.0L1419.2 1618.1L1421.3 1621.2L1423.4 1624.3L1425.5 1627.3L1427.7 1630.4L1429.8 1633.5L1431.9 1636.6L1434.0 1639.8L1436.1 1643.0L1437.8 1645.6L1438.3 1646.2L1440.4 1649.7L1442.5 1653.4L1444.6 1657.2L1446.7 1661.2L1448.9 1665.1L1451.0 1669.0L1453.1 1672.7L1455.2 1676.1L1457.3 1679.3L1459.5 1682.1L1461.6 1684.4L1463.7 1686.2L1465.8 1687.6L1467.9 1688.8L1470.1 1689.7L1471.3 1690.1L1481.1 545.7L1483.2 569.8L1485.3 596.3L1487.4 624.8L1489.6 657.2L1491.7 689.8L1493.8 718.6L1495.9 745.9L1498.0 771.9L1499.7 792.0L1500.2 797.0L1502.3 821.6L1504.4 845.0L1506.5 866.3L1508.6 884.9L1510.8 901.9L1512.9 918.6L1513.3 922.0L1515.0 936.3L1517.1 954.6L1519.2 972.0L1521.4 987.0L1523.5 999.6L1525.6 1010.8L1527.7 1021.2L1529.8 1031.1L1531.5 1039.0L1532.0 1041.0L1534.1 1050.6L1536.2 1059.8L1538.3 1069.2L1539.2 1073.0L1540.4 1079.1L1542.6 1089.7L1544.7 1100.7L1546.8 1111.8L1548.9 1122.5L1551.0 1132.8L1553.2 1142.1L1555.3 1150.5L1557.4 1158.2L1559.5 1165.5L1561.6 1172.8L1563.8 1180.5L1564.6 1183.8L1565.9 1188.9L1568.0 1198.0L1570.1 1207.5L1572.2 1216.9L1574.4 1226.1L1576.5 1234.5L1578.6 1242.1L1580.7 1249.3L1582.8 1256.2L1585.0 1263.0L1587.1 1269.9L1587.5 1271.2L1589.2 1276.8L1591.3 1283.8L1593.4 1290.8L1595.6 1297.6L1597.7 1304.2L1598.9 1308.0L1599.8 1310.5L1601.9 1316.6L1604.0 1322.5L1606.2 1328.3L1608.3 1333.9L1610.4 1339.3L1610.8 1340.4L1612.5 1344.5L1614.6 1349.7L1616.8 1354.7L1618.9 1359.5L1621.0 1364.3L1623.1 1369.0L1625.2 1373.7L1626.9 1377.3L1627.4 1378.2L1629.5 1382.7L1631.6 1387.1L1633.7 1391.5L1635.8 1395.8L1638.0 1400.0L1640.1 1404.2L1642.2 1408.3L1644.3 1412.5L1645.2 1414.1L1646.4 1416.5L1648.6 1420.5L1650.7 1424.3L1652.8 1428.1L1654.9 1431.9L1657.0 1435.6L1659.2 1439.3L1661.3 1443.2L1663.4 1447.1L1665.5 1451.1L1667.6 1455.3L1669.8 1459.6L1670.2 1460.5L1671.9 1464.3L1674.0 1469.2L1676.1 1474.4L1678.2 1479.7L1680.4 1485.2L1682.5 1490.7L1684.6 1496.2L1686.7 1501.6L1688.8 1506.9L1690.5 1510.9L1691.0 1511.9L1693.1 1516.7L1695.2 1521.6L1697.3 1526.3L1699.4 1531.0L1701.6 1535.6L1703.7 1540.2L1705.8 1544.8L1707.9 1549.2L1710.0 1553.7L1710.9 1555.5L1712.2 1558.1L1714.3 1562.4L1716.4 1566.6L1718.5 1570.7L1720.6 1574.9L1722.8 1579.0L1724.9 1583.1L1727.0 1587.3L1729.1 1591.5L1731.2 1595.8L1733.4 1600.1L1735.5 1604.3L1737.6 1608.6L1739.7 1612.9L1741.8 1617.2L1744.0 1621.7L1746.1 1626.3L1748.2 1631.1L1750.3 1636.1L1751.2 1638.1L1752.4 1641.5L1754.5 1647.8L1756.7 1654.7L1758.8 1661.7L1760.9 1668.3L1763.0 1674.0L1765.1 1678.4L1767.3 1681.9L1769.4 1684.9L1771.5 1687.4L1773.6 1689.2L1778.9 801.3L1781.0 744.3L1782.5 713.8L1783.2 703.4L1785.3 674.9L1786.8 658.2L1787.4 651.3L1789.5 626.9L1791.6 602.3L1793.8 579.3L1795.9 559.7L1798.0 545.5L1800.1 538.5L1800.8 538.1L1802.2 540.5L1804.4 551.2L1806.5 568.0L1808.6 588.2L1810.1 602.9L1810.7 610.1L1812.8 643.5L1815.0 678.0L1815.6 685.9L1817.1 701.3L1819.2 720.3L1821.3 737.1L1823.4 753.5L1823.7 755.2L1825.6 768.7L1827.7 783.3L1829.2 796.6L1829.8 804.9L1831.9 844.2L1833.4 865.7L1834.0 871.2L1836.2 885.9L1838.3 897.1L1840.4 906.9L1842.5 917.5L1843.2 921.1L1844.6 930.2L1846.8 944.0L1848.9 958.0L1851.0 971.8L1853.1 984.5L1854.2 990.4L1855.2 995.9L1857.4 1006.6L1859.5 1016.8L1861.6 1026.5L1863.7 1035.9L1865.8 1045.1L1868.0 1054.0L1870.1 1062.8L1872.2 1071.5L1874.3 1080.2L1876.4 1089.1L1876.7 1089.9L1878.6 1097.9L1880.7 1106.6L1882.8 1115.2L1884.9 1123.7L1887.0 1132.1L1889.2 1140.5L1891.3 1148.9L1893.4 1157.2L1895.5 1165.5L1897.6 1173.9L1899.8 1182.4L1900.0 1183.2L1901.9 1190.9L1904.0 1199.6L1906.1 1208.5L1908.2 1217.3L1910.4 1226.2L1912.5 1235.0L1914.6 1243.6L1916.7 1252.1L1918.8 1260.3L1921.0 1268.2L1923.1 1275.7L1923.3 1276.5L1925.2 1282.9L1927.3 1289.9L1929.4 1296.7L1931.6 1303.3L1933.7 1309.7L1935.8 1316.0L1937.9 1322.2L1940.0 1328.3L1942.2 1334.2L1944.3 1340.1L1946.4 1345.9L1946.6 1346.5L1948.5 1351.6L1950.6 1357.3L1952.8 1362.8L1954.9 1368.2L1957.0 1373.6L1959.1 1378.8L1961.2 1383.8L1963.4 1388.8L1965.3 1393.1L1965.5 1393.6L1967.6 1398.2L1969.7 1402.6L1971.8 1406.8L1974.0 1411.0L1976.1 1415.0L1978.2 1419.0L1980.3 1422.9L1982.4 1426.9L1984.6 1431.0L1986.7 1435.1L1988.8 1439.4L1990.9 1443.9L1993.0 1448.5L1993.3 1449.0L1995.2 1453.5L1997.3 1458.6L1999.4 1463.9L2001.5 1469.4L2003.6 1475.0L2005.8 1480.7L2007.9 1486.5L2010.0 1492.2L2012.1 1497.9L2014.2 1503.6L2016.4 1509.2L2016.6 1509.8L2018.5 1514.7L2020.6 1520.2L2022.7 1525.6L2024.8 1531.0L2027.0 1536.4L2029.1 1541.8L2031.2 1547.3L2033.3 1552.8L2035.4 1558.4L2037.6 1564.0L2039.7 1569.7L2039.9 1570.3L2041.8 1575.9L2043.9 1582.9L2046.0 1590.4L2048.2 1598.3L2050.3 1606.2L2052.4 1614.1L2054.5 1621.6L2056.6 1628.5L2058.8 1634.5L2060.9 1639.6L2063.0 1643.4L2065.1 1645.6L2066.2 1646.1L2067.2 1646.3L2069.4 1646.6L2071.5 1646.8L2073.6 1647.1L2074.7 1647.4L2075.7 1648.4L2077.8 1653.6L2080.0 1662.3L2082.1 1673.0L2083.1 1678.8L2093.7 1247.1L2095.9 1205.1L2098.0 1145.1L2100.1 1072.2L2101.4 1024.2L2102.2 985.4L2104.3 856.1L2106.5 732.5L2107.3 699.1L2108.6 661.4L2110.7 609.8L2112.8 578.4L2114.9 560.7L2117.1 546.8L2119.2 538.6L2120.4 537.1L2121.3 538.7L2123.4 553.8L2125.5 576.5L2127.7 596.9L2129.8 612.2L2131.9 626.5L2134.0 640.7L2135.7 652.7L2136.1 655.8L2138.3 672.0L2140.4 688.6L2142.5 704.7L2144.6 719.9L2146.7 734.7L2148.9 749.2L2151.0 763.6L2153.1 777.8L2155.2 792.0L2157.3 805.9L2159.5 819.5L2161.6 833.0L2163.7 846.9L2165.8 861.4L2166.2 864.4L2167.9 877.3L2170.1 894.9L2172.2 913.3L2174.3 931.7L2176.4 949.3L2178.5 965.1L2180.2 975.9L2180.6 978.3L2182.8 989.8L2184.9 1000.2L2187.0 1009.8L2189.1 1018.9L2191.2 1027.5L2193.4 1035.9L2195.5 1044.3L2197.6 1052.9L2199.7 1061.9L2201.4 1069.5L2201.8 1071.5L2204.0 1081.7L2206.1 1092.2L2208.2 1102.9L2210.3 1113.7L2212.4 1124.4L2214.6 1134.9L2216.7 1144.9L2218.8 1154.4L2219.2 1156.3L2220.9 1163.4L2223.0 1171.9L2225.2 1180.2L2227.3 1188.2L2229.4 1196.0L2231.5 1203.7L2233.6 1211.3L2235.8 1218.9L2237.9 1226.6L2240.0 1234.4L2241.7 1240.8L2242.1 1242.4L2244.2 1250.6L2246.4 1259.0L2248.5 1267.4L2250.6 1276.0L2252.7 1284.5L2254.8 1293.1L2257.0 1301.5L2259.1 1309.7L2261.2 1317.8L2263.3 1325.5L2265.4 1333.0L2267.6 1340.1L2268.0 1341.5L2269.7 1346.8L2271.8 1353.4L2273.9 1359.7L2276.0 1365.9L2278.2 1371.9L2280.3 1377.7L2282.4 1383.4L2284.5 1388.9L2286.6 1394.3L2288.8 1399.6L2290.0 1402.8L2290.9 1404.8L2293.0 1409.8L2295.1 1414.6L2297.2 1419.2L2299.4 1423.6L2301.5 1428.0L2303.6 1432.4L2305.7 1436.7L2307.8 1441.1L2310.0 1445.5L2312.1 1450.1L2314.2 1454.8L2316.3 1459.6L2318.4 1464.5L2320.6 1469.4L2322.7 1474.4L2324.8 1479.5L2326.9 1484.7L2329.0 1490.2L2331.2 1496.0L2333.3 1502.2L2333.7 1503.4L2335.4 1509.0L2337.5 1516.6L2339.6 1525.0L2341.8 1533.9L2343.9 1543.1L2346.0 1552.4L2348.1 1561.6L2350.2 1570.5L2352.4 1579.0L2354.5 1586.8L2355.8 1591.1L2356.6 1593.9L2358.7 1600.5L2360.8 1606.9L2363.0 1613.0L2365.1 1618.9L2367.2 1624.6L2369.3 1630.0L2371.4 1635.2L2373.1 1639.2L2373.6 1640.2L2375.7 1644.6" stroke="#0096cd" stroke-width="4.4"/>
<path d="M268.5 1693.1L569.5 1693.1L572.5 1483.8L574.6 1485.8L576.7 1487.7L578.9 1489.7L581.0 1491.6L583.1 1493.5L585.2 1495.4L587.3 1497.3L589.5 1499.2L591.6 1501.1L593.7 1503.0L595.8 1504.9L597.9 1506.8L600.1 1508.7L602.2 1510.5L604.3 1512.4L606.4 1514.2L608.5 1516.1L610.7 1517.9L612.8 1519.8L614.9 1521.6L617.0 1523.4L619.1 1525.2L621.3 1527.1L623.4 1528.9L625.5 1530.7L627.6 1532.5L629.7 1534.2L631.9 1536.0L634.0 1537.8L636.1 1539.6L638.2 1541.3L640.3 1543.1L642.5 1544.8L644.6 1546.6L646.7 1548.3L648.8 1550.1L650.9 1551.8L653.0 1553.5L655.2 1555.2L657.3 1556.9L659.4 1558.6L661.5 1560.3L663.6 1562.0L665.8 1563.7L667.9 1565.4L670.0 1567.1L672.1 1568.7L674.2 1570.4L676.4 1572.0L678.5 1573.7L680.6 1575.3L682.7 1577.0L684.8 1578.6L687.0 1580.2L689.1 1581.9L691.2 1583.5L693.3 1585.1L695.4 1586.7L697.6 1588.3L699.7 1589.9L701.8 1591.4L703.9 1593.0L706.0 1594.6L708.2 1596.1L710.3 1597.7L712.4 1599.3L714.5 1600.8L716.6 1602.3L718.8 1603.9L720.9 1605.4L723.0 1606.9L725.1 1608.4L727.2 1610.0L729.4 1611.5L731.5 1613.0L733.6 1614.4L735.7 1615.9L737.8 1617.4L740.0 1618.9L742.1 1620.3L744.2 1621.8L746.3 1623.3L748.4 1624.7L750.6 1626.2L752.7 1627.6L754.8 1629.0L756.9 1630.5L759.0 1631.9L761.2 1633.3L763.3 1634.7L765.4 1636.1L767.5 1637.5L769.6 1638.9L771.8 1640.3L773.9 1641.6L776.0 1643.0L778.1 1644.4L780.2 1645.7L782.4 1647.1L784.5 1648.4L786.6 1649.8L788.7 1651.1L790.8 1652.4L793.0 1653.8L795.1 1655.1L797.2 1656.4L799.3 1657.7L801.4 1659.0L803.6 1660.3L805.7 1661.6L807.8 1662.8L809.9 1664.1L812.0 1665.4L814.2 1666.6L816.3 1667.9L818.4 1669.1L820.5 1670.4L822.6 1671.6L824.8 1672.9L826.9 1674.1L829.0 1675.3L831.1 1676.5L833.2 1677.7L835.4 1678.9L837.5 1680.1L839.6 1681.3L841.7 1682.5L843.8 1683.7L846.0 1684.8L848.1 1686.0L850.2 1687.2L852.3 1688.3L854.4 1689.5L856.6 1690.6L858.7 1691.7L860.8 1692.9L862.9 1694.0L865.0 1695.1L867.2 1696.2L869.3 1697.3L876.1 1275.3L878.2 1279.6L880.3 1283.8L882.4 1288.0L884.5 1292.2L886.7 1296.4L888.8 1300.5L890.9 1304.7L893.0 1308.8L895.1 1312.9L897.3 1317.0L899.4 1321.1L901.5 1325.1L903.6 1329.2L905.7 1333.2L907.9 1337.2L910.0 1341.2L912.1 1345.2L914.2 1349.1L916.3 1353.1L918.5 1357.0L920.6 1360.9L922.7 1364.8L924.8 1368.7L926.9 1372.5L929.1 1376.4L931.2 1380.2L933.3 1384.0L935.4 1387.8L937.5 1391.5L939.7 1395.3L941.8 1399.0L943.9 1402.7L946.0 1406.4L948.1 1410.1L950.3 1413.8L952.4 1417.4L954.5 1421.1L956.6 1424.7L958.7 1428.3L960.9 1431.9L963.0 1435.4L965.1 1439.0L967.2 1442.5L969.3 1446.0L971.5 1449.5L973.6 1453.0L975.7 1456.4L977.8 1459.9L979.9 1463.3L982.1 1466.7L984.2 1470.1L986.3 1473.5L988.4 1476.8L990.5 1480.2L992.7 1483.5L994.8 1486.8L996.9 1490.1L999.0 1493.4L1001.1 1496.6L1003.3 1499.9L1005.4 1503.1L1007.5 1506.3L1009.6 1509.5L1011.7 1512.7L1013.9 1515.8L1016.0 1518.9L1018.1 1522.1L1020.2 1525.2L1022.3 1528.2L1024.5 1531.3L1026.6 1534.4L1028.7 1537.4L1030.8 1540.4L1032.9 1543.4L1035.1 1546.4L1037.2 1549.4L1039.3 1552.3L1041.4 1555.2L1043.5 1558.1L1045.7 1561.0L1047.8 1563.9L1049.9 1566.8L1052.0 1569.6L1054.1 1572.5L1056.3 1575.3L1058.4 1578.1L1060.5 1580.8L1062.6 1583.6L1064.7 1586.3L1066.9 1589.1L1069.0 1591.8L1071.1 1594.5L1073.2 1597.1L1075.3 1599.8L1077.5 1602.4L1079.6 1605.0L1081.7 1607.7L1083.8 1610.2L1085.9 1612.8L1088.1 1615.4L1090.2 1617.9L1092.3 1620.4L1094.4 1622.9L1096.5 1625.4L1098.7 1627.9L1100.8 1630.3L1102.9 1632.8L1105.0 1635.2L1107.1 1637.6L1109.3 1640.0L1111.4 1642.3L1113.5 1644.7L1115.6 1647.0L1117.7 1649.3L1119.9 1651.6L1122.0 1653.9L1124.1 1656.2L1126.2 1658.4L1128.3 1660.6L1130.5 1662.8L1132.6 1665.0L1134.7 1667.2L1136.8 1669.4L1138.9 1671.5L1141.1 1673.6L1143.2 1675.8L1145.3 1677.8L1147.4 1679.9L1149.5 1682.0L1151.7 1684.0L1153.8 1686.0L1155.9 1688.1L1158.0 1690.0L1160.1 1692.0L1162.2 1694.0L1164.4 1695.9L1166.5 1697.8L1168.6 1699.7L1170.7 1701.6L1176.2 1059.7L1178.4 1066.1L1180.5 1072.5L1182.6 1078.9L1184.7 1085.2L1186.8 1091.5L1189.0 1097.8L1191.1 1104.0L1193.2 1110.3L1195.3 1116.5L1197.4 1122.6L1199.6 1128.8L1201.7 1134.9L1203.8 1141.0L1205.9 1147.1L1208.0 1153.1L1210.2 1159.1L1212.3 1165.1L1214.4 1171.1L1216.5 1177.0L1218.6 1183.0L1220.8 1188.9L1222.9 1194.7L1225.0 1200.6L1227.1 1206.4L1229.2 1212.2L1231.4 1217.9L1233.5 1223.7L1235.6 1229.4L1237.7 1235.1L1239.8 1240.7L1242.0 1246.3L1244.1 1252.0L1246.2 1257.5L1248.3 1263.1L1250.4 1268.6L1252.6 1274.1L1254.7 1279.6L1256.8 1285.1L1258.9 1290.5L1261.0 1295.9L1263.2 1301.3L1265.3 1306.6L1267.4 1311.9L1269.5 1317.2L1271.6 1322.5L1273.8 1327.7L1275.9 1333.0L1278.0 1338.1L1280.1 1343.3L1282.2 1348.5L1284.4 1353.6L1286.5 1358.7L1288.6 1363.7L1290.7 1368.8L1292.8 1373.8L1295.0 1378.8L1297.1 1383.7L1299.2 1388.7L1301.3 1393.6L1303.4 1398.5L1305.6 1403.3L1307.7 1408.1L1309.8 1412.9L1311.9 1417.7L1314.0 1422.5L1316.2 1427.2L1318.3 1431.9L1320.4 1436.6L1322.5 1441.2L1324.6 1445.9L1326.8 1450.5L1328.9 1455.0L1331.0 1459.6L1333.1 1464.1L1335.2 1468.6L1337.4 1473.1L1339.5 1477.5L1341.6 1481.9L1343.7 1486.3L1345.8 1490.7L1348.0 1495.0L1350.1 1499.3L1352.2 1503.6L1354.3 1507.9L1356.4 1512.1L1358.6 1516.3L1360.7 1520.5L1362.8 1524.7L1364.9 1528.8L1367.0 1532.9L1369.2 1537.0L1371.3 1541.1L1373.4 1545.1L1375.5 1549.1L1377.6 1553.1L1379.8 1557.0L1381.9 1561.0L1384.0 1564.9L1386.1 1568.7L1388.2 1572.6L1390.4 1576.4L1392.5 1580.2L1394.6 1584.0L1396.7 1587.7L1398.8 1591.4L1401.0 1595.1L1403.1 1598.8L1405.2 1602.5L1407.3 1606.1L1409.4 1609.7L1411.6 1613.2L1413.7 1616.8L1415.8 1620.3L1417.9 1623.8L1420.0 1627.2L1422.1 1630.7L1424.3 1634.1L1426.4 1637.5L1428.5 1640.8L1430.6 1644.1L1432.7 1647.5L1434.9 1650.7L1437.0 1654.0L1439.1 1657.2L1441.2 1660.4L1443.3 1663.6L1445.5 1666.8L1447.6 1669.9L1449.7 1673.0L1451.8 1676.0L1453.9 1679.1L1456.1 1682.1L1458.2 1685.1L1460.3 1688.1L1462.4 1691.0L1464.5 1694.0L1466.7 1696.8L1468.8 1699.7L1470.9 1702.6L1471.8 1703.7L1478.1 856.8L1480.2 864.2L1482.4 871.6L1484.5 879.0L1486.6 886.4L1488.7 893.9L1490.8 901.3L1493.0 908.8L1495.1 916.3L1497.2 923.8L1499.3 931.3L1501.4 938.9L1503.6 946.5L1505.7 954.1L1507.8 961.8L1509.9 969.5L1512.0 977.2L1514.2 984.9L1516.3 992.5L1518.4 1000.0L1520.5 1007.5L1522.6 1014.9L1524.8 1022.2L1526.9 1029.5L1529.0 1036.8L1531.1 1044.0L1533.2 1051.2L1535.4 1058.3L1537.5 1065.4L1539.6 1072.5L1541.7 1079.5L1543.8 1086.4L1546.0 1093.3L1548.1 1100.1L1550.2 1106.9L1552.3 1113.5L1554.4 1120.0L1556.6 1126.5L1558.7 1132.9L1560.8 1139.2L1562.9 1145.6L1565.0 1151.9L1567.2 1158.3L1568.8 1163.5L1569.3 1164.8L1571.4 1171.3L1573.5 1177.8L1575.6 1184.4L1577.8 1191.0L1579.9 1197.5L1582.0 1204.1L1584.1 1210.7L1586.2 1217.2L1588.3 1223.7L1590.5 1230.2L1591.7 1234.1L1592.6 1236.7L1594.7 1243.1L1596.8 1249.4L1598.9 1255.7L1601.1 1262.0L1603.2 1268.3L1605.3 1274.6L1607.4 1280.9L1609.5 1287.3L1611.7 1293.7L1613.8 1300.2L1614.6 1302.8L1615.9 1306.8L1618.0 1313.4L1620.1 1320.2L1622.3 1326.9L1624.4 1333.7L1626.5 1340.6L1628.6 1347.4L1630.7 1354.2L1632.9 1361.1L1635.0 1367.8L1637.1 1374.6L1639.2 1381.4L1641.3 1388.3L1643.5 1395.1L1645.6 1402.0L1647.7 1408.8L1649.8 1415.6L1651.9 1422.4L1654.1 1429.1L1656.2 1435.8L1658.3 1442.5L1660.0 1447.7L1660.4 1449.0L1662.5 1455.6L1664.7 1462.2L1666.8 1468.8L1668.9 1475.4L1671.0 1482.0L1673.1 1488.4L1675.3 1494.8L1677.4 1501.1L1679.5 1507.2L1681.6 1513.2L1683.7 1519.0L1684.2 1520.2L1685.9 1524.6L1688.0 1530.1L1690.1 1535.3L1692.2 1540.5L1694.3 1545.5L1696.5 1550.5L1698.6 1555.5L1700.7 1560.4L1702.8 1565.3L1704.9 1570.1L1707.1 1574.9L1709.2 1579.7L1711.3 1584.4L1713.4 1589.1L1715.5 1593.8L1717.7 1598.4L1719.8 1603.0L1721.9 1607.6L1724.0 1612.2L1726.1 1616.8L1726.6 1617.7L1728.3 1621.4L1730.4 1626.0L1732.5 1630.6L1734.6 1635.2L1736.7 1639.7L1738.9 1644.3L1741.0 1648.8L1743.1 1653.3L1745.2 1657.8L1747.3 1662.1L1749.5 1666.4L1751.6 1670.6L1753.7 1674.7L1755.0 1677.1L1755.8 1678.7L1757.9 1682.6L1760.1 1686.5L1762.2 1690.3L1764.3 1694.0L1766.4 1697.6L1768.5 1701.2L1770.7 1704.7L1772.8 1708.1L1774.9 1711.5L1778.7 654.8L1780.8 664.7L1783.0 674.6L1785.1 684.4L1787.2 694.2L1789.3 704.0L1791.4 713.8L1793.6 723.4L1795.7 733.1L1797.8 742.7L1799.9 752.3L1802.0 761.9L1804.2 771.4L1806.3 780.9L1808.4 790.3L1810.5 799.8L1812.6 809.1L1814.8 818.5L1816.9 827.8L1819.0 837.1L1821.1 846.3L1823.2 855.5L1825.4 864.7L1827.5 873.8L1829.6 882.9L1831.7 892.0L1833.8 901.0L1836.0 910.0L1838.1 918.9L1840.2 927.9L1842.3 936.8L1844.4 945.6L1846.6 954.4L1848.7 963.2L1850.8 971.9L1852.9 980.7L1855.0 989.3L1857.2 998.0L1859.3 1006.6L1861.4 1015.1L1863.5 1023.7L1865.6 1032.2L1867.8 1040.6L1869.9 1049.0L1872.0 1057.4L1874.1 1065.8L1876.2 1074.1L1878.4 1082.4L1880.5 1090.6L1882.6 1098.9L1884.7 1107.0L1886.8 1115.2L1889.0 1123.3L1891.1 1131.4L1893.2 1139.4L1895.3 1147.4L1897.4 1155.4L1899.6 1163.3L1901.7 1171.2L1903.8 1179.1L1905.9 1186.9L1908.0 1194.7L1910.2 1202.4L1912.3 1210.1L1914.4 1217.8L1916.5 1225.5L1918.6 1233.1L1920.8 1240.7L1922.9 1248.2L1925.0 1255.7L1927.1 1263.2L1929.2 1270.6L1931.3 1278.0L1933.5 1285.4L1935.6 1292.7L1937.7 1300.0L1939.8 1307.3L1941.9 1314.5L1944.1 1321.7L1946.2 1328.9L1948.3 1336.0L1950.4 1343.1L1952.5 1350.1L1954.7 1357.1L1956.8 1364.1L1958.9 1371.0L1961.0 1377.9L1963.1 1384.8L1965.3 1391.6L1967.4 1398.4L1969.5 1405.2L1971.6 1411.9L1973.7 1418.6L1975.9 1425.3L1978.0 1431.9L1980.1 1438.5L1982.2 1445.1L1984.3 1451.6L1986.5 1458.1L1988.6 1464.5L1990.7 1470.9L1992.8 1477.3L1994.9 1483.6L1997.1 1489.9L1999.2 1496.2L2001.3 1502.4L2003.4 1508.6L2005.5 1514.8L2007.7 1520.9L2009.8 1527.0L2011.9 1533.1L2014.0 1539.1L2016.1 1545.1L2018.3 1551.1L2020.4 1557.0L2022.5 1562.9L2024.6 1568.7L2026.7 1574.5L2028.9 1580.3L2031.0 1586.0L2033.1 1591.7L2035.2 1597.4L2037.3 1603.0L2039.5 1608.6L2041.6 1614.2L2043.7 1619.7L2045.8 1625.2L2047.9 1630.7L2050.1 1636.1L2052.2 1641.5L2054.3 1646.8L2056.4 1652.2L2058.5 1657.4L2060.7 1662.7L2062.8 1667.9L2064.9 1673.1L2067.0 1678.2L2069.1 1683.3L2071.3 1688.4L2073.4 1693.4L2075.5 1698.4L2075.9 1699.4L2079.3 434.6L2081.4 446.9L2083.6 459.2L2085.7 471.5L2087.8 483.6L2089.9 495.7L2092.0 507.8L2094.2 519.8L2096.3 531.7L2098.4 543.6L2100.5 555.5L2102.6 567.2L2104.8 578.9L2106.9 590.6L2109.0 602.2L2111.1 613.8L2113.2 625.2L2115.4 636.7L2117.5 648.1L2119.6 659.4L2121.7 670.7L2123.8 681.9L2126.0 693.1L2128.1 704.2L2130.2 715.3L2132.3 726.3L2134.4 737.2L2136.6 748.1L2138.7 759.0L2140.8 769.8L2142.9 780.6L2145.0 791.3L2147.2 801.9L2149.3 812.5L2151.4 823.1L2153.5 833.6L2155.6 844.1L2157.8 854.5L2159.9 864.8L2162.0 875.1L2164.1 885.4L2166.2 895.6L2168.4 905.8L2170.5 915.9L2172.6 926.0L2174.7 936.1L2176.8 946.0L2179.0 956.0L2181.1 965.9L2183.2 975.7L2185.3 985.5L2187.4 995.3L2189.6 1005.0L2191.7 1014.7L2193.8 1024.3L2195.9 1033.9L2198.0 1043.5L2200.2 1053.0L2202.3 1062.5L2204.4 1071.9L2206.5 1081.3L2208.6 1090.6L2210.8 1099.9L2212.9 1109.2L2215.0 1118.4L2217.1 1127.6L2219.2 1136.7L2221.4 1145.8L2223.5 1154.9L2225.6 1163.9L2227.7 1172.9L2229.8 1181.8L2232.0 1190.7L2234.1 1199.6L2236.2 1208.5L2238.3 1217.3L2240.4 1226.0L2242.6 1234.7L2244.7 1243.4L2246.8 1252.1L2248.9 1260.7L2251.0 1269.3L2253.2 1277.8L2255.3 1286.4L2257.4 1294.8L2259.5 1303.3L2261.6 1311.7L2263.7 1320.1L2265.9 1328.4L2268.0 1336.8L2270.1 1345.1L2272.2 1353.3L2274.3 1361.5L2276.5 1369.7L2278.6 1377.9L2280.7 1386.0L2282.8 1394.1L2284.9 1402.2L2287.1 1410.2L2289.2 1418.2L2291.3 1426.2L2293.4 1434.2L2295.5 1442.1L2297.7 1450.0L2299.8 1457.9L2301.9 1465.7L2304.0 1473.5L2306.1 1481.3L2308.3 1489.1L2310.4 1496.8L2312.5 1504.5L2314.6 1512.2L2316.7 1519.9L2318.9 1527.5L2321.0 1535.1L2323.1 1542.7L2325.2 1550.2L2327.3 1557.8L2329.5 1565.3L2331.6 1572.8L2333.7 1580.3L2335.8 1587.7L2337.9 1595.1L2340.1 1602.5L2342.2 1609.9L2344.3 1617.3L2346.4 1624.6L2348.5 1631.9L2350.7 1639.2L2352.8 1646.5L2354.9 1653.8L2357.0 1661.0L2359.1 1668.2L2361.3 1675.4L2363.4 1682.6L2365.5 1689.8L2367.6 1696.9L2369.7 1704.0L2371.9 1711.1L2374.0 1718.2L2375.7 1723.9" stroke="#e3ad35" stroke-width="4.4"/>
</g>
<path d="M480.5 1765.8v-18M480.5 42.5v18M692.5 1765.8v-18M692.5 42.5v18M904.5 1765.8v-18M904.5 42.5v18M1116.5 1765.8v-18M1116.5 42.5v18M1328.5 1765.8v-18M1328.5 42.5v18M1540.4 1765.8v-18M1540.4 42.5v18M1752.4 1765.8v-18M1752.4 42.5v18M1964.4 1765.8v-18M1964.4 42.5v18M2176.4 1765.8v-18M2176.4 42.5v18M268.5 1711.5h18M2388.4 1711.5h-18M268.5 1525.7h18M2388.4 1525.7h-18M268.5 1340.0h18M2388.4 1340.0h-18M268.5 1154.2h18M2388.4 1154.2h-18M268.5 968.5h18M2388.4 968.5h-18M268.5 782.7h18M2388.4 782.7h-18M268.5 596.9h18M2388.4 596.9h-18M268.5 411.2h18M2388.4 411.2h-18M268.5 225.4h18M2388.4 225.4h-18" stroke="#262626" stroke-width="3" fill="none"/>
<rect x="268.5" y="42.5" width="2119.9" height="1723.3" stroke="#262626" stroke-width="3" fill="none"/>
<text transform="translate(241.5 1739.4) scale(1 1.05)" text-anchor="end" font-size="63.5" fill="#262626" font-family="'Liberation Sans', Arial, Helvetica, sans-serif" stroke="#ffffff" stroke-width="1.1">0</text>
<text transform="translate(241.5 1553.7) scale(1 1.05)" text-anchor="end" font-size="63.5" fill="#262626" font-family="'Liberation Sans', Arial, Helvetica, sans-serif" stroke="#ffffff" stroke-width="1.1">1000</text>
<text transform="translate(241.5 1367.9) scale(1 1.05)" text-anchor="end" font-size="63.5" fill="#262626" font-family="'Liberation Sans', Arial, Helvetica, sans-serif" stroke="#ffffff" stroke-width="1.1">2000</text>
<text transform="translate(241.5 1182.2) scale(1 1.05)" text-anchor="end" font-size="63.5" fill="#262626" font-family="'Liberation Sans', Arial, Helvetica, sans-serif" stroke="#ffffff" stroke-width="1.1">3000</text>
<text transform="translate(241.5 996.4) scale(1 1.05)" text-anchor="end" font-size="63.5" fill="#262626" font-family="'Liberation Sans', Arial, Helvetica, sans-serif" stroke="#ffffff" stroke-width="1.1">4000</text>
<text transform="translate(241.5 810.6) scale(1 1.05)" text-anchor="end" font-size="63.5" fill="#262626" font-family="'Liberation Sans', Arial, Helvetica, sans-serif" stroke="#ffffff" stroke-width="1.1">5000</text>
<text transform="translate(241.5 624.9) scale(1 1.05)" text-anchor="end" font-size="63.5" fill="#262626" font-family="'Liberation Sans', Arial, Helvetica, sans-serif" stroke="#ffffff" stroke-width="1.1">6000</text>
<text transform="translate(241.5 439.1) scale(1 1.05)" text-anchor="end" font-size="63.5" fill="#262626" font-family="'Liberation Sans', Arial, Helvetica, sans-serif" stroke="#ffffff" stroke-width="1.1">7000</text>
<text transform="translate(241.5 253.4) scale(1 1.05)" text-anchor="end" font-size="63.5" fill="#262626" font-family="'Liberation Sans', Arial, Helvetica, sans-serif" stroke="#ffffff" stroke-width="1.1">8000</text>
<text transform="translate(241.5 67.6) scale(1 1.05)" text-anchor="end" font-size="63.5" fill="#262626" font-family="'Liberation Sans', Arial, Helvetica, sans-serif" stroke="#ffffff" stroke-width="1.1">9000</text>
<text transform="translate(266.0 1857.2) scale(1 1.05)" text-anchor="middle" font-size="63.5" fill="#262626" font-family="'Liberation Sans', Arial, Helvetica, sans-serif" stroke="#ffffff" stroke-width="1.1">0</text>
<text transform="translate(478.0 1857.2) scale(1 1.05)" text-anchor="middle" font-size="63.5" fill="#262626" font-family="'Liberation Sans', Arial, Helvetica, sans-serif" stroke="#ffffff" stroke-width="1.1">50</text>
<text transform="translate(690.0 1857.2) scale(1 1.05)" text-anchor="middle" font-size="63.5" fill="#262626" font-family="'Liberation Sans', Arial, Helvetica, sans-serif" stroke="#ffffff" stroke-width="1.1">100</text>
<text transform="translate(902.0 1857.2) scale(1 1.05)" text-anchor="middle" font-size="63.5" fill="#262626" font-family="'Liberation Sans', Arial, Helvetica, sans-serif" stroke="#ffffff" stroke-width="1.1">150</text>
<text transform="translate(1114.0 1857.2) scale(1 1.05)" text-anchor="middle" font-size="63.5" fill="#262626" font-family="'Liberation Sans', Arial, Helvetica, sans-serif" stroke="#ffffff" stroke-width="1.1">200</text>
<text transform="translate(1326.0 1857.2) scale(1 1.05)" text-anchor="middle" font-size="63.5" fill="#262626" font-family="'Liberation Sans', Arial, Helvetica, sans-serif" stroke="#ffffff" stroke-width="1.1">250</text>
<text transform="translate(1537.9 1857.2) scale(1 1.05)" text-anchor="middle" font-size="63.5" fill="#262626" font-family="'Liberation Sans', Arial, Helvetica, sans-serif" stroke="#ffffff" stroke-width="1.1">300</text>
<text transform="translate(1749.9 1857.2) scale(1 1.05)" text-anchor="middle" font-size="63.5" fill="#262626" font-family="'Liberation Sans', Arial, Helvetica, sans-serif" stroke="#ffffff" stroke-width="1.1">350</text>
<text transform="translate(1961.9 1857.2) scale(1 1.05)" text-anchor="middle" font-size="63.5" fill="#262626" font-family="'Liberation Sans', Arial, Helvetica, sans-serif" stroke="#ffffff" stroke-width="1.1">400</text>
<text transform="translate(2173.9 1857.2) scale(1 1.05)" text-anchor="middle" font-size="63.5" fill="#262626" font-family="'Liberation Sans', Arial, Helvetica, sans-serif" stroke="#ffffff" stroke-width="1.1">450</text>
<text transform="translate(2385.9 1857.2) scale(1 1.05)" text-anchor="middle" font-size="63.5" fill="#262626" font-family="'Liberation Sans', Arial, Helvetica, sans-serif" stroke="#ffffff" stroke-width="1.1">500</text>
<text x="1328" y="1952.9" text-anchor="middle" font-size="71" fill="#262626" font-family="'Liberation Sans', Arial, Helvetica, sans-serif" stroke="#ffffff" stroke-width="1.1">Sample index</text>
<text transform="translate(67.5 903.9) rotate(-90)" x="0" y="0" text-anchor="middle" font-size="71" fill="#262626" font-family="'Liberation Sans', Arial, Helvetica, sans-serif" stroke="#ffffff" stroke-width="1.1">Force [N]</text>
<rect x="329.2" y="139.2" width="580.8" height="391.1" fill="#ffffff" stroke="#262626" stroke-width="3"/>
<path d="M389.6 183.8H551.2" stroke="#000000" stroke-width="6" stroke-dasharray="28 25"/>
<text x="562" y="207.4" font-size="57" fill="#000000" font-family="'Liberation Sans', Arial, Helvetica, sans-serif" stroke="#ffffff" stroke-width="1.1">F</text>
<path d="M389.6 257.5H551.2" stroke="#dd1020" stroke-width="3.6"/>
<text x="562" y="284.6" font-size="57" fill="#000000" font-family="'Liberation Sans', Arial, Helvetica, sans-serif" stroke="#ffffff" stroke-width="1.1">YS-mlp</text>
<path d="M389.6 334.5H551.2" stroke="#7a9e50" stroke-width="3.6"/>
<text x="562" y="358.4" font-size="57" fill="#000000" font-family="'Liberation Sans', Arial, Helvetica, sans-serif" stroke="#ffffff" stroke-width="1.1">YS-anfis</text>
<path d="M389.6 411.5H551.2" stroke="#0096cd" stroke-width="3.6"/>
<text x="562" y="435.0" font-size="57" fill="#000000" font-family="'Liberation Sans', Arial, Helvetica, sans-serif" stroke="#ffffff" stroke-width="1.1">YS-svm</text>
<path d="M389.6 485.4H551.2" stroke="#e3ad35" stroke-width="3.6"/>
<text x="562" y="511.6" font-size="57" fill="#000000" font-family="'Liberation Sans', Arial, Helvetica, sans-serif" stroke="#ffffff" stroke-width="1.1">YS-custom</text>
</svg>
</body></html>
